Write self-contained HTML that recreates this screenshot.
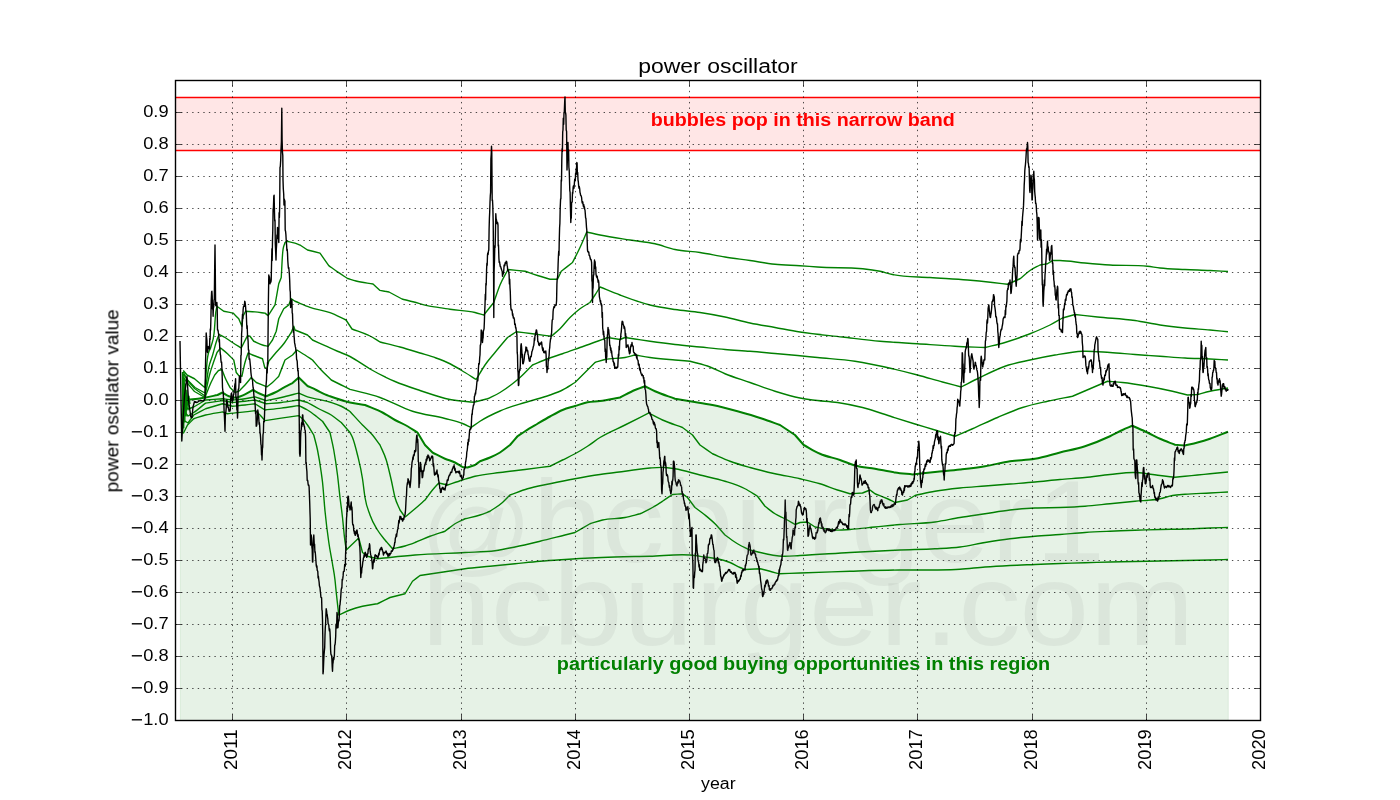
<!DOCTYPE html>
<html><head><meta charset="utf-8"><title>power oscillator</title>
<style>html,body{margin:0;padding:0;background:#fff;}body{width:1400px;height:800px;overflow:hidden;font-family:"Liberation Sans",sans-serif;}</style>
</head><body>
<svg width="1400" height="800" viewBox="0 0 1400 800" style="display:block" font-family="'Liberation Sans', sans-serif">
<rect x="0" y="0" width="1400" height="800" fill="#fff"/>
<g opacity="0.999">
<defs><clipPath id="ax"><rect x="175.5" y="80.5" width="1085.0" height="640.0"/></clipPath></defs>
<g clip-path="url(#ax)">
<rect x="175.5" y="97.5" width="1085.0" height="53" fill="rgb(255,0,0)" fill-opacity="0.1"/>
<path d="M180.3,720.5 L180.3,400.5 L182.50,400.00 C185.00,399.83 187.50,399.72 190.00,399.50 C195.20,399.05 200.40,398.41 205.60,397.50 C209.57,396.81 213.53,395.83 217.50,395.00 C219.17,394.17 220.83,393.33 222.50,392.50 C224.17,393.53 225.83,394.77 227.50,395.60 C229.17,396.43 230.83,396.87 232.50,397.50 C234.17,397.50 235.83,397.50 237.50,397.50 C240.00,396.47 242.50,395.59 245.00,394.40 C247.70,393.12 250.40,391.47 253.10,390.00 C255.40,391.25 257.70,392.67 260.00,393.75 C262.08,394.73 264.17,395.42 266.25,396.25 C269.17,395.00 272.08,393.93 275.00,392.50 C278.33,390.87 281.67,388.67 285.00,386.90 C287.50,385.58 290.00,384.37 292.50,383.10 C294.58,381.23 296.67,379.37 298.75,377.50 C301.67,380.33 304.58,383.17 307.50,386.00 C310.42,387.33 313.33,388.60 316.25,390.00 C319.17,391.40 322.08,393.18 325.00,394.40 C326.67,395.10 328.33,395.65 330.00,396.25 C336.67,398.64 343.33,400.97 350.00,402.50 C355.00,403.65 360.00,404.17 365.00,405.00 C370.83,407.50 376.67,409.42 382.50,412.50 C386.67,414.70 390.83,417.71 395.00,420.00 C399.17,422.29 403.33,423.88 407.50,426.25 C410.83,428.15 414.17,430.42 417.50,432.50 C420.00,436.67 422.50,440.83 425.00,445.00 C427.50,447.50 430.00,450.00 432.50,452.50 C436.67,454.58 440.83,456.96 445.00,458.75 C448.33,460.19 451.67,460.82 455.00,462.50 C457.50,463.76 460.00,465.50 462.50,467.00 C464.17,467.17 465.83,467.33 467.50,467.50 C470.00,466.67 472.50,465.83 475.00,465.00 C476.67,463.75 478.33,462.50 480.00,461.25 C483.33,460.00 486.67,458.96 490.00,457.50 C493.33,456.04 496.67,454.58 500.00,452.50 C503.33,450.42 506.67,447.50 510.00,445.00 C512.50,442.08 515.00,439.17 517.50,436.25 C520.00,434.58 522.50,432.85 525.00,431.25 C529.17,428.58 533.33,426.21 537.50,423.75 C541.67,421.29 545.83,418.79 550.00,416.50 C554.17,414.21 558.33,411.75 562.50,410.00 C566.67,408.25 570.83,407.28 575.00,406.00 C579.17,404.72 583.33,403.13 587.50,402.30 C591.67,401.47 595.83,401.55 600.00,401.00 C606.67,400.12 613.33,398.67 620.00,397.50 C625.00,395.00 630.00,392.12 635.00,390.00 C638.33,388.58 641.67,387.50 645.00,386.25 C648.33,387.92 651.67,389.72 655.00,391.25 C661.67,394.31 668.33,396.25 675.00,398.75 C680.00,399.58 685.00,400.42 690.00,401.25 C697.50,402.50 705.00,403.45 712.50,405.00 C720.83,406.72 729.17,408.96 737.50,411.25 C745.83,413.54 754.17,415.97 762.50,418.75 C768.33,420.70 774.17,422.92 780.00,425.00 C785.00,428.33 790.00,431.67 795.00,435.00 C797.92,438.33 800.83,441.67 803.75,445.00 C809.17,447.92 814.58,451.38 820.00,453.75 C826.67,456.66 833.33,457.71 840.00,460.00 C845.00,461.72 850.00,464.10 855.00,465.50 C861.67,467.36 868.33,467.58 875.00,468.75 C881.67,469.92 888.33,471.51 895.00,472.50 C900.83,473.37 906.67,473.83 912.50,474.50 C920.00,473.67 927.50,472.79 935.00,472.00 C943.33,471.12 951.67,470.46 960.00,469.50 C968.33,468.54 976.67,467.62 985.00,466.25 C993.33,464.88 1001.67,462.50 1010.00,461.25 C1018.33,460.00 1026.67,460.21 1035.00,458.75 C1043.33,457.29 1051.67,454.58 1060.00,452.50 C1068.33,450.42 1076.67,448.96 1085.00,446.25 C1093.33,443.54 1101.67,440.14 1110.00,436.25 C1114.17,434.31 1118.33,431.91 1122.50,430.00 C1125.83,428.47 1129.17,427.17 1132.50,425.75 C1137.50,428.00 1142.50,430.11 1147.50,432.50 C1151.67,434.49 1155.83,436.86 1160.00,438.75 C1165.00,441.02 1170.00,442.75 1175.00,444.75 C1178.33,445.00 1181.67,445.25 1185.00,445.50 C1189.17,444.50 1193.33,443.62 1197.50,442.50 C1201.67,441.38 1205.83,440.15 1210.00,438.75 C1216.00,436.73 1222.00,434.08 1228.00,431.75 L1228.3,431.75 L1228.3,720.5 Z" fill="rgb(0,128,0)" fill-opacity="0.1" stroke="rgb(0,128,0)" stroke-opacity="0.1" stroke-width="1"/>
<line x1="175.5" x2="1260.5" y1="97.5" y2="97.5" stroke="#f00" stroke-width="1.4"/>
<line x1="175.5" x2="1260.5" y1="150.5" y2="150.5" stroke="#f00" stroke-width="1.4"/>
<path d="M183.25,370.50 C184.50,372.00 185.75,373.50 187.00,375.00 C189.50,376.25 192.00,377.50 194.50,378.75 C198.00,381.75 201.50,384.75 205.00,387.75 C205.75,378.50 206.50,366.79 207.25,360.00 C208.50,348.68 209.75,351.82 211.00,346.50 C212.13,341.68 213.27,343.02 214.40,330.00 C214.77,325.79 215.13,318.81 215.50,315.00 C215.97,310.15 216.43,309.17 216.90,306.25 C219.18,307.92 221.47,309.58 223.75,311.25 C226.87,311.87 229.98,312.48 233.10,313.10 C234.98,314.98 236.87,316.87 238.75,318.75 C239.80,321.25 240.85,323.75 241.90,326.25 C242.27,322.92 242.63,319.58 243.00,316.25 C243.87,314.58 244.73,312.92 245.60,311.25 C248.73,311.47 251.87,311.61 255.00,311.90 C258.33,312.21 261.67,312.70 265.00,313.10 C266.03,313.93 267.07,314.77 268.10,315.60 C269.98,312.70 271.87,309.77 273.75,306.90 C274.17,306.27 274.58,305.63 275.00,305.00 C276.25,297.92 277.50,290.83 278.75,283.75 C279.58,281.67 280.42,279.58 281.25,277.50 C281.67,270.00 282.08,260.69 282.50,255.00 C283.33,243.61 284.17,246.67 285.00,242.50 C285.63,242.08 286.27,241.67 286.90,241.25 C289.60,241.87 292.30,242.23 295.00,243.10 C296.67,243.64 298.33,244.37 300.00,245.00 C302.50,246.67 305.00,248.33 307.50,250.00 C311.67,251.03 315.83,252.07 320.00,253.10 C322.92,257.27 325.83,261.43 328.75,265.60 C331.67,267.70 334.58,269.88 337.50,271.90 C340.83,274.21 344.17,276.30 347.50,278.50 C350.33,279.33 353.17,280.28 356.00,281.00 C361.67,282.44 367.33,283.00 373.00,284.00 C375.33,286.13 377.67,288.27 380.00,290.40 C383.00,290.93 386.00,291.47 389.00,292.00 C393.33,294.33 397.67,296.67 402.00,299.00 C406.00,300.00 410.00,300.93 414.00,302.00 C418.00,303.07 422.00,304.50 426.00,305.40 C430.00,306.30 434.00,306.75 438.00,307.40 C442.00,308.05 446.00,308.71 450.00,309.30 C458.33,310.54 466.67,310.46 475.00,312.50 C477.92,313.21 480.83,314.17 483.75,315.00 C487.08,310.83 490.42,306.67 493.75,302.50 C495.83,296.67 497.92,290.05 500.00,285.00 C502.67,278.54 505.33,274.67 508.00,269.50 C513.67,270.08 519.33,270.67 525.00,271.25 C529.17,272.67 533.33,274.17 537.50,275.50 C541.67,276.83 545.83,278.00 550.00,279.25 C552.50,279.25 555.00,279.25 557.50,279.25 C558.75,276.58 560.00,273.92 561.25,271.25 C565.00,268.33 568.75,265.42 572.50,262.50 C575.00,257.50 577.50,252.89 580.00,247.50 C582.25,242.65 584.50,237.17 586.75,232.00 C591.17,233.00 595.58,234.08 600.00,235.00 C610.00,237.08 620.00,238.42 630.00,240.00 C638.33,241.31 646.67,241.86 655.00,243.75 C661.67,245.26 668.33,248.08 675.00,249.50 C683.33,251.28 691.67,251.25 700.00,252.50 C708.33,253.75 716.67,255.67 725.00,257.00 C733.33,258.33 741.67,259.29 750.00,260.50 C758.33,261.71 766.67,263.38 775.00,264.25 C783.33,265.12 791.67,265.19 800.00,265.75 C805.83,266.14 811.67,266.59 817.50,267.00 C838.33,268.47 859.17,266.50 880.00,271.25 C884.17,272.20 888.33,273.60 892.50,274.50 C905.00,277.19 917.50,276.58 930.00,277.50 C942.50,278.42 955.00,278.92 967.50,280.00 C975.83,280.72 984.17,281.58 992.50,282.50 C997.50,283.05 1002.50,283.67 1007.50,284.25 C1011.67,282.42 1015.83,280.58 1020.00,278.75 C1023.33,276.00 1026.67,272.79 1030.00,270.50 C1033.33,268.21 1036.67,266.83 1040.00,265.00 C1042.50,264.58 1045.00,264.17 1047.50,263.75 C1049.17,262.67 1050.83,261.58 1052.50,260.50 C1055.00,260.50 1057.50,260.44 1060.00,260.50 C1068.33,260.69 1076.67,262.25 1085.00,263.00 C1093.33,263.75 1101.67,264.49 1110.00,265.00 C1122.50,265.77 1135.00,264.83 1147.50,266.25 C1151.67,266.72 1155.83,267.53 1160.00,268.00 C1168.33,268.94 1176.67,269.08 1185.00,269.50 C1193.33,269.92 1201.67,270.09 1210.00,270.50 C1216.00,270.79 1222.00,271.17 1228.00,271.50" fill="none" stroke="#008000" stroke-width="1.4" stroke-linejoin="round"/>
<path d="M183.25,372.00 C184.67,374.67 186.08,377.33 187.50,380.00 C190.00,382.50 192.50,385.00 195.00,387.50 C198.33,389.33 201.67,391.17 205.00,393.00 C206.25,384.50 207.50,373.75 208.75,367.50 C210.00,361.25 211.25,359.75 212.50,355.50 C213.75,351.25 215.00,345.90 216.25,342.00 C217.17,339.14 218.08,336.93 219.00,334.40 C221.00,335.43 223.00,336.33 225.00,337.50 C227.50,338.96 230.00,340.88 232.50,342.50 C235.42,344.39 238.33,346.17 241.25,348.00 C243.33,343.87 245.42,339.73 247.50,335.60 C248.33,335.82 249.17,336.03 250.00,336.25 C251.25,337.92 252.50,339.58 253.75,341.25 C256.67,342.50 259.58,344.12 262.50,345.00 C264.37,345.57 266.23,345.83 268.10,346.25 C269.57,344.17 271.03,342.08 272.50,340.00 C273.75,337.08 275.00,334.17 276.25,331.25 C277.08,327.08 277.92,322.92 278.75,318.75 C280.42,315.42 282.08,312.08 283.75,308.75 C285.42,307.50 287.08,306.25 288.75,305.00 C289.58,302.92 290.42,300.83 291.25,298.75 C292.50,299.58 293.75,300.42 295.00,301.25 C300.00,303.27 305.00,305.57 310.00,307.30 C316.67,309.61 323.33,310.21 330.00,312.70 C335.33,314.69 340.67,317.57 346.00,320.00 C348.00,323.00 350.00,326.00 352.00,329.00 C358.00,331.33 364.00,332.85 370.00,336.00 C373.33,337.75 376.67,340.00 380.00,342.00 C386.67,343.67 393.33,345.17 400.00,347.00 C406.67,348.83 413.33,350.95 420.00,353.00 C425.33,354.64 430.67,356.05 436.00,358.00 C440.67,359.70 445.33,361.44 450.00,363.75 C455.00,366.22 460.00,369.47 465.00,372.50 C468.75,374.77 472.50,377.17 476.25,379.50 C479.17,374.67 482.08,369.28 485.00,365.00 C488.33,360.11 491.67,356.59 495.00,352.50 C499.17,347.38 503.33,342.50 507.50,337.50 C510.42,335.58 513.33,333.67 516.25,331.75 C521.67,332.42 527.08,333.06 532.50,333.75 C538.75,334.55 545.00,335.42 551.25,336.25 C554.17,333.75 557.08,331.61 560.00,328.75 C563.33,325.48 566.67,320.83 570.00,317.50 C573.33,314.17 576.67,311.25 580.00,308.75 C583.33,306.25 586.67,304.58 590.00,302.50 C591.67,300.00 593.33,297.58 595.00,295.00 C596.67,292.42 598.33,289.67 600.00,287.00 C606.67,289.67 613.33,292.51 620.00,295.00 C630.00,298.73 640.00,302.50 650.00,305.00 C658.33,307.08 666.67,308.25 675.00,309.50 C683.33,310.75 691.67,311.25 700.00,312.50 C708.33,313.75 716.67,315.25 725.00,317.00 C733.33,318.75 741.67,321.25 750.00,323.00 C758.33,324.75 766.67,326.00 775.00,327.50 C783.33,329.00 791.67,330.69 800.00,332.00 C814.17,334.22 828.33,335.37 842.50,337.00 C855.00,338.44 867.50,340.12 880.00,341.25 C892.50,342.38 905.00,342.92 917.50,343.75 C930.00,344.58 942.50,345.59 955.00,346.25 C965.00,346.78 975.00,347.08 985.00,347.50 C991.67,345.83 998.33,344.46 1005.00,342.50 C1013.33,340.05 1021.67,337.07 1030.00,333.75 C1036.67,331.09 1043.33,328.42 1050.00,325.00 C1054.17,322.86 1058.33,320.33 1062.50,318.00 C1066.67,316.83 1070.83,315.67 1075.00,314.50 C1082.50,315.33 1090.00,316.22 1097.50,317.00 C1110.00,318.31 1122.50,318.68 1135.00,320.50 C1143.33,321.71 1151.67,323.75 1160.00,325.00 C1168.33,326.25 1176.67,327.17 1185.00,328.00 C1193.33,328.83 1201.67,329.25 1210.00,330.00 C1216.00,330.54 1222.00,331.17 1228.00,331.75" fill="none" stroke="#008000" stroke-width="1.4" stroke-linejoin="round"/>
<path d="M183.25,374.00 C184.50,375.83 185.75,377.78 187.00,379.50 C189.50,382.94 192.00,385.50 194.50,388.50 C198.00,391.00 201.50,393.50 205.00,396.00 C206.50,389.00 208.00,380.80 209.50,375.00 C210.75,370.17 212.00,366.75 213.25,363.00 C214.50,359.25 215.75,356.00 217.00,352.50 C218.20,351.00 219.40,349.50 220.60,348.00 C222.90,349.92 225.20,351.63 227.50,353.75 C229.58,355.67 231.67,357.92 233.75,360.00 C234.58,364.17 235.42,368.33 236.25,372.50 C237.08,373.53 237.92,374.57 238.75,375.60 C239.80,375.82 240.85,376.03 241.90,376.25 C242.93,371.67 243.97,366.38 245.00,362.50 C246.03,358.62 247.07,356.17 248.10,353.00 C249.57,353.67 251.03,354.37 252.50,355.00 C255.83,356.43 259.17,357.50 262.50,358.75 C263.25,361.67 264.00,364.58 264.75,367.50 C265.47,367.92 266.18,368.33 266.90,368.75 C267.52,366.25 268.13,363.75 268.75,361.25 C270.83,358.75 272.92,356.20 275.00,353.75 C277.92,350.32 280.83,347.64 283.75,343.75 C286.25,340.41 288.75,336.25 291.25,332.50 C292.08,330.42 292.92,328.33 293.75,326.25 C294.17,327.50 294.58,328.75 295.00,330.00 C299.17,331.67 303.33,333.33 307.50,335.00 C309.17,336.67 310.83,338.33 312.50,340.00 C316.67,341.87 320.83,343.73 325.00,345.60 C329.17,347.48 333.33,349.43 337.50,351.25 C341.67,353.07 345.83,354.42 350.00,356.50 C356.67,359.83 363.33,365.20 370.00,369.00 C378.33,373.75 386.67,377.92 395.00,381.50 C403.33,385.08 411.67,387.73 420.00,390.50 C430.00,393.83 440.00,397.52 450.00,399.50 C457.92,401.07 465.83,401.37 473.75,402.30 C478.33,401.12 482.92,399.93 487.50,398.75 C491.67,396.67 495.83,395.00 500.00,392.50 C504.17,390.00 508.33,387.01 512.50,383.75 C515.00,381.79 517.50,379.74 520.00,377.50 C524.17,373.77 528.33,369.17 532.50,365.00 C537.50,362.92 542.50,360.62 547.50,358.75 C552.50,356.88 557.50,355.47 562.50,353.75 C568.33,351.74 574.17,349.58 580.00,347.50 C585.83,345.42 591.67,343.40 597.50,341.25 C600.83,340.02 604.17,338.75 607.50,337.50 C611.67,338.17 615.83,338.83 620.00,339.50 C621.67,338.83 623.33,338.17 625.00,337.50 C633.33,338.75 641.67,340.08 650.00,341.25 C658.33,342.42 666.67,343.54 675.00,344.50 C683.33,345.46 691.67,346.17 700.00,347.00 C708.33,347.83 716.67,348.79 725.00,349.50 C733.33,350.21 741.67,350.58 750.00,351.25 C758.33,351.92 766.67,352.75 775.00,353.50 C783.33,354.25 791.67,354.95 800.00,355.75 C805.83,356.31 811.67,356.92 817.50,357.50 C830.00,358.75 842.50,359.38 855.00,361.25 C867.50,363.12 880.00,365.88 892.50,368.75 C900.83,370.67 909.17,372.79 917.50,375.00 C925.83,377.21 934.17,379.73 942.50,382.00 C948.75,383.70 955.00,385.33 961.25,387.00 C967.50,383.83 973.75,380.51 980.00,377.50 C988.33,373.48 996.67,369.17 1005.00,366.25 C1013.33,363.33 1021.67,361.88 1030.00,360.00 C1038.33,358.12 1046.67,356.41 1055.00,355.00 C1064.17,353.44 1073.33,351.67 1082.50,351.25 C1091.67,350.83 1100.83,351.92 1110.00,352.50 C1118.33,353.03 1126.67,353.88 1135.00,354.50 C1143.33,355.12 1151.67,355.67 1160.00,356.25 C1168.33,356.83 1176.67,357.54 1185.00,358.00 C1193.33,358.46 1201.67,358.59 1210.00,359.00 C1216.00,359.29 1222.00,359.67 1228.00,360.00" fill="none" stroke="#008000" stroke-width="1.4" stroke-linejoin="round"/>
<path d="M183.25,377.00 C184.50,378.83 185.75,380.78 187.00,382.50 C189.50,385.94 192.00,388.50 194.50,391.50 C198.00,393.50 201.50,395.50 205.00,397.50 C207.00,392.50 209.00,386.88 211.00,382.50 C212.25,379.76 213.50,377.50 214.75,375.00 C216.00,373.50 217.25,372.00 218.50,370.50 C219.63,370.17 220.77,369.83 221.90,369.50 C222.93,372.17 223.97,375.06 225.00,377.50 C226.67,381.43 228.33,384.17 230.00,387.50 C231.67,389.17 233.33,390.83 235.00,392.50 C236.25,392.08 237.50,391.67 238.75,391.25 C240.83,389.17 242.92,387.29 245.00,385.00 C247.08,382.71 249.17,380.00 251.25,377.50 C252.92,379.17 254.58,380.83 256.25,382.50 C259.80,383.97 263.35,385.43 266.90,386.90 C268.77,385.43 270.63,384.16 272.50,382.50 C274.58,380.65 276.67,378.33 278.75,376.25 C280.83,370.83 282.92,365.42 285.00,360.00 C287.50,358.33 290.00,356.67 292.50,355.00 C293.97,353.33 295.43,351.67 296.90,350.00 C299.60,351.67 302.30,353.26 305.00,355.00 C307.50,356.61 310.00,358.33 312.50,360.00 C315.00,362.92 317.50,366.00 320.00,368.75 C323.75,372.88 327.50,376.25 331.25,380.00 C334.58,381.67 337.92,383.33 341.25,385.00 C344.17,386.46 347.08,387.93 350.00,389.40 C360.00,392.10 370.00,394.07 380.00,397.50 C390.83,401.22 401.67,407.75 412.50,411.25 C423.33,414.75 434.17,415.64 445.00,418.50 C450.83,420.04 456.67,421.11 462.50,423.50 C465.33,424.66 468.17,426.17 471.00,427.50 C474.00,425.42 477.00,423.16 480.00,421.25 C486.67,417.00 493.33,413.91 500.00,411.00 C508.33,407.37 516.67,405.17 525.00,402.50 C533.33,399.83 541.67,398.06 550.00,395.00 C554.17,393.47 558.33,392.08 562.50,390.00 C566.67,387.92 570.83,385.00 575.00,382.50 C578.33,379.17 581.67,375.83 585.00,372.50 C588.33,369.17 591.67,365.83 595.00,362.50 C598.33,361.50 601.67,360.28 605.00,359.50 C611.67,357.94 618.33,358.83 625.00,357.50 C628.33,356.83 631.67,355.83 635.00,355.00 C640.00,355.83 645.00,356.79 650.00,357.50 C658.33,358.68 666.67,359.25 675.00,360.00 C680.00,360.45 685.00,360.83 690.00,361.25 C696.67,363.17 703.33,364.46 710.00,367.00 C715.00,368.90 720.00,371.69 725.00,373.75 C733.33,377.19 741.67,379.58 750.00,382.50 C758.33,385.42 766.67,388.67 775.00,391.25 C783.33,393.83 791.67,396.36 800.00,398.00 C804.17,398.82 808.33,399.42 812.50,400.00 C820.83,401.17 829.17,401.25 837.50,402.50 C845.83,403.75 854.17,405.39 862.50,407.50 C872.50,410.03 882.50,413.87 892.50,417.00 C900.00,419.35 907.50,421.71 915.00,424.00 C921.67,426.03 928.33,427.96 935.00,430.00 C941.67,432.04 948.33,434.17 955.00,436.25 C960.83,433.75 966.67,431.30 972.50,428.75 C980.83,425.11 989.17,421.04 997.50,417.50 C1005.83,413.96 1014.17,410.21 1022.50,407.50 C1030.83,404.79 1039.17,403.12 1047.50,401.25 C1055.83,399.38 1064.17,397.92 1072.50,396.25 C1078.33,393.75 1084.17,391.25 1090.00,388.75 C1095.83,386.25 1101.67,383.75 1107.50,381.25 C1112.50,381.67 1117.50,381.96 1122.50,382.50 C1130.83,383.40 1139.17,384.79 1147.50,386.25 C1155.83,387.71 1164.17,389.32 1172.50,391.25 C1177.50,392.41 1182.50,393.75 1187.50,395.00 C1190.83,394.83 1194.17,394.67 1197.50,394.50 C1201.67,393.42 1205.83,392.20 1210.00,391.25 C1216.00,389.89 1222.00,389.08 1228.00,388.00" fill="none" stroke="#008000" stroke-width="1.4" stroke-linejoin="round"/>
<path d="M182.50,400.00 C185.00,399.83 187.50,399.72 190.00,399.50 C195.20,399.05 200.40,398.41 205.60,397.50 C209.57,396.81 213.53,395.83 217.50,395.00 C219.17,394.17 220.83,393.33 222.50,392.50 C224.17,393.53 225.83,394.77 227.50,395.60 C229.17,396.43 230.83,396.87 232.50,397.50 C234.17,397.50 235.83,397.50 237.50,397.50 C240.00,396.47 242.50,395.59 245.00,394.40 C247.70,393.12 250.40,391.47 253.10,390.00 C255.40,391.25 257.70,392.67 260.00,393.75 C262.08,394.73 264.17,395.42 266.25,396.25 C269.17,395.00 272.08,393.93 275.00,392.50 C278.33,390.87 281.67,388.67 285.00,386.90 C287.50,385.58 290.00,384.37 292.50,383.10 C294.58,381.23 296.67,379.37 298.75,377.50 C301.67,380.33 304.58,383.17 307.50,386.00 C310.42,387.33 313.33,388.60 316.25,390.00 C319.17,391.40 322.08,393.18 325.00,394.40 C326.67,395.10 328.33,395.65 330.00,396.25 C336.67,398.64 343.33,400.97 350.00,402.50 C355.00,403.65 360.00,404.17 365.00,405.00 C370.83,407.50 376.67,409.42 382.50,412.50 C386.67,414.70 390.83,417.71 395.00,420.00 C399.17,422.29 403.33,423.88 407.50,426.25 C410.83,428.15 414.17,430.42 417.50,432.50 C420.00,436.67 422.50,440.83 425.00,445.00 C427.50,447.50 430.00,450.00 432.50,452.50 C436.67,454.58 440.83,456.96 445.00,458.75 C448.33,460.19 451.67,460.82 455.00,462.50 C457.50,463.76 460.00,465.50 462.50,467.00 C464.17,467.17 465.83,467.33 467.50,467.50 C470.00,466.67 472.50,465.83 475.00,465.00 C476.67,463.75 478.33,462.50 480.00,461.25 C483.33,460.00 486.67,458.96 490.00,457.50 C493.33,456.04 496.67,454.58 500.00,452.50 C503.33,450.42 506.67,447.50 510.00,445.00 C512.50,442.08 515.00,439.17 517.50,436.25 C520.00,434.58 522.50,432.85 525.00,431.25 C529.17,428.58 533.33,426.21 537.50,423.75 C541.67,421.29 545.83,418.79 550.00,416.50 C554.17,414.21 558.33,411.75 562.50,410.00 C566.67,408.25 570.83,407.28 575.00,406.00 C579.17,404.72 583.33,403.13 587.50,402.30 C591.67,401.47 595.83,401.55 600.00,401.00 C606.67,400.12 613.33,398.67 620.00,397.50 C625.00,395.00 630.00,392.12 635.00,390.00 C638.33,388.58 641.67,387.50 645.00,386.25 C648.33,387.92 651.67,389.72 655.00,391.25 C661.67,394.31 668.33,396.25 675.00,398.75 C680.00,399.58 685.00,400.42 690.00,401.25 C697.50,402.50 705.00,403.45 712.50,405.00 C720.83,406.72 729.17,408.96 737.50,411.25 C745.83,413.54 754.17,415.97 762.50,418.75 C768.33,420.70 774.17,422.92 780.00,425.00 C785.00,428.33 790.00,431.67 795.00,435.00 C797.92,438.33 800.83,441.67 803.75,445.00 C809.17,447.92 814.58,451.38 820.00,453.75 C826.67,456.66 833.33,457.71 840.00,460.00 C845.00,461.72 850.00,464.10 855.00,465.50 C861.67,467.36 868.33,467.58 875.00,468.75 C881.67,469.92 888.33,471.51 895.00,472.50 C900.83,473.37 906.67,473.83 912.50,474.50 C920.00,473.67 927.50,472.79 935.00,472.00 C943.33,471.12 951.67,470.46 960.00,469.50 C968.33,468.54 976.67,467.62 985.00,466.25 C993.33,464.88 1001.67,462.50 1010.00,461.25 C1018.33,460.00 1026.67,460.21 1035.00,458.75 C1043.33,457.29 1051.67,454.58 1060.00,452.50 C1068.33,450.42 1076.67,448.96 1085.00,446.25 C1093.33,443.54 1101.67,440.14 1110.00,436.25 C1114.17,434.31 1118.33,431.91 1122.50,430.00 C1125.83,428.47 1129.17,427.17 1132.50,425.75 C1137.50,428.00 1142.50,430.11 1147.50,432.50 C1151.67,434.49 1155.83,436.86 1160.00,438.75 C1165.00,441.02 1170.00,442.75 1175.00,444.75 C1178.33,445.00 1181.67,445.25 1185.00,445.50 C1189.17,444.50 1193.33,443.62 1197.50,442.50 C1201.67,441.38 1205.83,440.15 1210.00,438.75 C1216.00,436.73 1222.00,434.08 1228.00,431.75" fill="none" stroke="#008000" stroke-width="2.0" stroke-linejoin="round"/>
<path d="M183.25,404.00 C184.83,405.67 186.42,407.33 188.00,409.00 C189.92,408.33 191.83,407.67 193.75,407.00 C197.70,404.67 201.65,402.33 205.60,400.00 C211.23,399.58 216.87,399.17 222.50,398.75 C225.83,399.17 229.17,399.58 232.50,400.00 C236.67,399.58 240.83,399.36 245.00,398.75 C248.33,398.26 251.67,397.52 255.00,396.90 C258.75,398.13 262.50,399.37 266.25,400.60 C271.25,399.57 276.25,398.64 281.25,397.50 C287.08,396.17 292.92,394.57 298.75,393.10 C301.67,394.37 304.58,395.90 307.50,396.90 C311.25,398.18 315.00,398.52 318.75,399.40 C322.92,400.38 327.08,401.17 331.25,402.50 C334.58,403.56 337.92,404.60 341.25,406.25 C344.17,407.69 347.08,409.75 350.00,411.50 C354.17,416.00 358.33,420.69 362.50,425.00 C365.83,428.45 369.17,431.03 372.50,435.00 C375.00,437.98 377.50,441.67 380.00,445.00 C382.08,450.00 384.17,453.15 386.25,460.00 C387.92,465.48 389.58,472.70 391.25,480.00 C392.50,485.48 393.75,492.83 395.00,497.50 C396.67,503.73 398.33,505.83 400.00,510.00 C401.67,512.33 403.33,514.67 405.00,517.00 C408.33,514.25 411.67,511.58 415.00,508.75 C418.33,505.92 421.67,502.92 425.00,500.00 C427.50,496.67 430.00,493.04 432.50,490.00 C434.58,487.46 436.67,485.33 438.75,483.00 C441.67,483.67 444.58,484.33 447.50,485.00 C452.50,483.33 457.50,481.58 462.50,480.00 C466.67,478.69 470.83,477.29 475.00,476.25 C483.33,474.17 491.67,473.62 500.00,472.50 C508.33,471.38 516.67,470.54 525.00,469.50 C533.33,468.46 541.67,467.33 550.00,466.25 C554.17,464.17 558.33,462.08 562.50,460.00 C566.67,457.92 570.83,456.04 575.00,453.75 C579.17,451.46 583.33,448.96 587.50,446.25 C591.67,443.54 595.83,440.14 600.00,437.50 C608.33,432.22 616.67,429.19 625.00,425.00 C632.92,421.02 640.83,417.00 648.75,413.00 C653.33,415.33 657.92,417.92 662.50,420.00 C669.17,423.03 675.83,425.00 682.50,427.50 C685.83,430.00 689.17,432.50 692.50,435.00 C695.00,438.33 697.50,441.67 700.00,445.00 C704.17,447.92 708.33,450.83 712.50,453.75 C718.33,456.25 724.17,459.07 730.00,461.25 C736.67,463.75 743.33,465.60 750.00,467.50 C758.33,469.87 766.67,471.88 775.00,473.75 C783.33,475.62 791.67,476.85 800.00,478.75 C806.67,480.27 813.33,481.70 820.00,483.75 C825.83,485.54 831.67,488.11 837.50,490.00 C841.67,491.35 845.83,492.50 850.00,493.75 C854.17,493.50 858.33,493.25 862.50,493.00 C865.00,492.00 867.50,491.00 870.00,490.00 C871.67,491.25 873.33,492.50 875.00,493.75 C879.17,495.42 883.33,496.82 887.50,498.75 C890.00,499.91 892.50,501.25 895.00,502.50 C899.17,501.67 903.33,500.83 907.50,500.00 C910.00,498.50 912.50,497.00 915.00,495.50 C921.67,494.08 928.33,492.42 935.00,491.25 C943.33,489.78 951.67,488.88 960.00,488.00 C968.33,487.12 976.67,486.67 985.00,486.00 C993.33,485.33 1001.67,484.67 1010.00,484.00 C1018.33,483.33 1026.67,482.75 1035.00,482.00 C1043.33,481.25 1051.67,480.25 1060.00,479.50 C1068.33,478.75 1076.67,478.33 1085.00,477.50 C1093.33,476.67 1101.67,475.33 1110.00,474.50 C1118.33,473.67 1126.67,472.17 1135.00,472.50 C1139.17,472.67 1143.33,473.25 1147.50,473.75 C1151.67,474.25 1155.83,474.95 1160.00,475.50 C1165.00,476.15 1170.00,476.70 1175.00,477.30 C1178.33,476.95 1181.67,476.59 1185.00,476.25 C1189.17,475.82 1193.33,475.42 1197.50,475.00 C1201.67,474.58 1205.83,474.16 1210.00,473.75 C1216.00,473.16 1222.00,472.58 1228.00,472.00" fill="none" stroke="#008000" stroke-width="1.4" stroke-linejoin="round"/>
<path d="M183.25,410.00 C184.83,412.00 186.42,414.00 188.00,416.00 C189.92,414.83 191.83,413.78 193.75,412.50 C197.70,409.86 201.65,406.23 205.60,403.10 C211.23,402.27 216.87,401.43 222.50,400.60 C225.83,401.23 229.17,401.87 232.50,402.50 C236.67,402.08 240.83,401.72 245.00,401.25 C248.33,400.87 251.67,400.42 255.00,400.00 C258.75,401.25 262.50,402.50 266.25,403.75 C271.25,403.33 276.25,403.05 281.25,402.50 C287.08,401.85 292.92,400.83 298.75,400.00 C301.67,400.83 304.58,401.67 307.50,402.50 C311.25,404.58 315.00,406.77 318.75,408.75 C322.92,410.96 327.08,412.34 331.25,415.00 C334.58,417.13 337.92,420.00 341.25,422.50 C344.17,425.83 347.08,429.17 350.00,432.50 C350.83,434.17 351.67,435.42 352.50,437.50 C354.17,441.67 355.83,448.12 357.50,455.00 C359.17,461.88 360.83,467.78 362.50,478.75 C363.33,484.24 364.17,492.36 365.00,497.50 C366.67,507.78 368.33,510.17 370.00,515.00 C372.50,522.25 375.00,525.83 377.50,530.00 C380.00,534.17 382.50,536.88 385.00,540.00 C387.50,543.12 390.00,545.83 392.50,548.75 C396.67,547.83 400.83,547.22 405.00,546.00 C408.33,545.03 411.67,543.76 415.00,542.50 C420.00,540.62 425.00,538.12 430.00,536.25 C435.00,534.38 440.00,532.92 445.00,531.25 C448.33,528.75 451.67,525.83 455.00,523.75 C458.33,521.67 461.67,520.42 465.00,518.75 C470.00,517.50 475.00,516.62 480.00,515.00 C483.33,513.92 486.67,512.50 490.00,511.25 C494.17,508.33 498.33,506.20 502.50,502.50 C505.00,500.28 507.50,497.50 510.00,495.00 C515.83,492.92 521.67,490.49 527.50,488.75 C535.00,486.51 542.50,485.34 550.00,483.75 C558.33,481.99 566.67,480.29 575.00,478.75 C583.33,477.21 591.67,475.75 600.00,474.50 C608.33,473.25 616.67,472.33 625.00,471.25 C633.33,470.17 641.67,468.58 650.00,468.00 C655.00,467.65 660.00,467.19 665.00,467.50 C668.33,467.71 671.67,468.21 675.00,468.75 C683.33,470.09 691.67,472.92 700.00,475.00 C708.33,477.08 716.67,478.59 725.00,481.25 C731.67,483.38 738.33,485.33 745.00,488.75 C749.17,490.89 753.33,493.75 757.50,496.25 C760.00,499.58 762.50,502.92 765.00,506.25 C768.33,508.75 771.67,511.67 775.00,513.75 C778.33,515.83 781.67,516.96 785.00,518.75 C788.33,520.54 791.67,522.58 795.00,524.50 C796.67,523.83 798.33,523.17 800.00,522.50 C802.50,522.33 805.00,522.17 807.50,522.00 C810.00,523.67 812.50,525.33 815.00,527.00 C818.33,527.58 821.67,528.25 825.00,528.75 C828.33,529.25 831.67,529.79 835.00,530.00 C840.00,530.31 845.00,529.79 850.00,529.50 C858.33,529.01 866.67,527.83 875.00,527.00 C883.33,526.17 891.67,525.23 900.00,524.50 C911.67,523.47 923.33,523.57 935.00,522.00 C943.33,520.88 951.67,518.88 960.00,517.50 C968.33,516.12 976.67,515.00 985.00,513.75 C993.33,512.50 1001.67,510.96 1010.00,510.00 C1018.33,509.04 1026.67,508.42 1035.00,508.00 C1043.33,507.58 1051.67,507.79 1060.00,507.50 C1068.33,507.21 1076.67,506.88 1085.00,506.25 C1093.33,505.62 1101.67,504.58 1110.00,503.75 C1118.33,502.92 1126.67,502.08 1135.00,501.25 C1143.33,500.42 1151.67,500.47 1160.00,498.75 C1164.17,497.89 1168.33,496.25 1172.50,495.50 C1176.67,494.75 1180.83,494.60 1185.00,494.25 C1193.33,493.56 1201.67,493.44 1210.00,493.00 C1216.00,492.68 1222.00,492.33 1228.00,492.00" fill="none" stroke="#008000" stroke-width="1.4" stroke-linejoin="round"/>
<path d="M183.25,420.00 C184.83,421.00 186.42,422.00 188.00,423.00 C189.92,420.33 191.83,417.67 193.75,415.00 C197.70,412.92 201.65,410.83 205.60,408.75 C211.23,407.08 216.87,405.42 222.50,403.75 C225.83,404.58 229.17,405.42 232.50,406.25 C236.67,405.83 240.83,405.47 245.00,405.00 C248.33,404.62 251.67,404.17 255.00,403.75 C258.33,405.83 261.67,407.92 265.00,410.00 C270.42,409.37 275.83,408.80 281.25,408.10 C287.08,407.35 292.92,406.43 298.75,405.60 C301.67,407.07 304.58,408.23 307.50,410.00 C310.42,411.77 313.33,414.02 316.25,416.25 C318.33,417.84 320.42,419.58 322.50,421.25 C325.00,425.00 327.50,428.75 330.00,432.50 C331.25,438.33 332.50,442.92 333.75,450.00 C335.00,457.08 336.25,464.92 337.50,475.00 C338.33,481.72 339.17,490.42 340.00,497.50 C340.83,504.58 341.67,509.91 342.50,517.50 C343.17,523.57 343.83,531.85 344.50,537.50 C345.08,542.44 345.67,545.83 346.25,550.00 C350.42,546.00 354.58,542.00 358.75,538.00 C360.00,542.83 361.25,547.67 362.50,552.50 C364.17,553.75 365.83,555.00 367.50,556.25 C370.83,557.08 374.17,557.92 377.50,558.75 C390.00,557.50 402.50,555.98 415.00,555.00 C431.67,553.69 448.33,553.42 465.00,552.50 C475.00,551.95 485.00,552.11 495.00,550.75 C501.67,549.84 508.33,548.38 515.00,547.00 C523.33,545.28 531.67,543.25 540.00,541.25 C548.33,539.25 556.67,537.08 565.00,535.00 C568.33,534.17 571.67,533.33 575.00,532.50 C580.00,529.58 585.00,526.67 590.00,523.75 C594.17,522.50 598.33,520.97 602.50,520.00 C610.00,518.26 617.50,518.96 625.00,517.50 C630.00,516.53 635.00,515.00 640.00,513.75 C644.17,511.67 648.33,509.87 652.50,507.50 C655.83,505.60 659.17,503.42 662.50,501.25 C665.83,499.08 669.17,496.75 672.50,494.50 C675.83,494.25 679.17,494.00 682.50,493.75 C684.17,495.00 685.83,496.25 687.50,497.50 C690.00,500.83 692.50,504.17 695.00,507.50 C698.33,510.00 701.67,512.29 705.00,515.00 C708.33,517.71 711.67,520.42 715.00,523.75 C718.33,527.08 721.67,531.25 725.00,535.00 C729.17,537.92 733.33,541.25 737.50,543.75 C741.67,546.25 745.83,547.92 750.00,550.00 C754.17,551.00 758.33,552.08 762.50,553.00 C766.67,553.92 770.83,554.93 775.00,555.50 C777.50,555.84 780.00,556.11 782.50,556.25 C788.33,556.58 794.17,555.78 800.00,555.50 C816.67,554.71 833.33,553.42 850.00,552.50 C866.67,551.58 883.33,550.69 900.00,550.00 C911.67,549.51 923.33,549.40 935.00,548.75 C943.33,548.29 951.67,548.04 960.00,547.00 C968.33,545.96 976.67,543.88 985.00,542.50 C993.33,541.12 1001.67,539.79 1010.00,538.75 C1018.33,537.71 1026.67,536.96 1035.00,536.25 C1043.33,535.54 1051.67,535.12 1060.00,534.50 C1068.33,533.88 1076.67,533.04 1085.00,532.50 C1093.33,531.96 1101.67,531.62 1110.00,531.25 C1118.33,530.88 1126.67,530.54 1135.00,530.25 C1143.33,529.96 1151.67,529.71 1160.00,529.50 C1168.33,529.29 1176.67,529.25 1185.00,529.00 C1193.33,528.75 1201.67,528.27 1210.00,528.00 C1216.00,527.80 1222.00,527.67 1228.00,527.50" fill="none" stroke="#008000" stroke-width="1.4" stroke-linejoin="round"/>
<path d="M183.25,433.50 C184.67,430.67 186.08,427.83 187.50,425.00 C189.58,422.92 191.67,420.83 193.75,418.75 C197.70,417.50 201.65,416.03 205.60,415.00 C211.23,413.53 216.87,412.93 222.50,411.90 C224.17,412.52 225.83,413.13 227.50,413.75 C233.33,413.13 239.17,412.61 245.00,411.90 C248.33,411.50 251.67,411.03 255.00,410.60 C256.67,412.07 258.33,413.33 260.00,415.00 C261.67,416.67 263.33,418.73 265.00,420.60 C270.42,419.77 275.83,418.90 281.25,418.10 C287.08,417.23 292.92,416.43 298.75,415.60 C300.42,417.07 302.08,418.53 303.75,420.00 C305.00,421.67 306.25,423.21 307.50,425.00 C309.58,427.99 311.67,431.67 313.75,435.00 C315.00,440.00 316.25,443.75 317.50,450.00 C318.75,456.25 320.00,463.50 321.25,472.50 C321.67,475.50 322.08,478.28 322.50,482.00 C323.33,489.44 324.17,502.44 325.00,511.00 C326.25,523.83 327.50,533.17 328.75,542.00 C330.00,550.83 331.25,556.27 332.50,564.00 C333.33,569.16 334.17,572.67 335.00,580.00 C335.42,583.67 335.83,588.47 336.25,592.50 C337.08,600.56 337.92,607.50 338.75,615.00 C342.50,613.33 346.25,611.41 350.00,610.00 C354.17,608.43 358.33,607.25 362.50,606.25 C367.50,605.05 372.50,604.58 377.50,603.75 C381.67,601.67 385.83,599.58 390.00,597.50 C395.00,596.25 400.00,595.00 405.00,593.75 C407.50,589.58 410.00,585.42 412.50,581.25 C415.00,579.33 417.50,577.42 420.00,575.50 C426.67,574.50 433.33,573.50 440.00,572.50 C448.33,571.25 456.67,569.79 465.00,568.75 C473.33,567.71 481.67,567.08 490.00,566.25 C498.33,565.42 506.67,564.58 515.00,563.75 C523.33,562.92 531.67,561.96 540.00,561.25 C548.33,560.54 556.67,560.04 565.00,559.50 C573.33,558.96 581.67,558.42 590.00,558.00 C598.33,557.58 606.67,557.27 615.00,557.00 C626.67,556.62 638.33,556.55 650.00,556.25 C663.33,555.90 676.67,553.82 690.00,555.00 C695.00,555.44 700.00,556.32 705.00,557.00 C709.17,557.57 713.33,557.83 717.50,558.75 C721.67,559.67 725.83,560.79 730.00,562.50 C733.33,563.87 736.67,566.06 740.00,567.50 C741.67,568.22 743.33,568.83 745.00,569.50 C750.00,569.25 755.00,569.00 760.00,568.75 C763.33,569.58 766.67,570.35 770.00,571.25 C772.92,572.03 775.83,572.92 778.75,573.75 C785.83,573.50 792.92,573.25 800.00,573.00 C816.67,572.41 833.33,571.75 850.00,571.25 C866.67,570.75 883.33,570.17 900.00,570.00 C911.67,569.88 923.33,570.20 935.00,570.00 C943.33,569.85 951.67,569.75 960.00,569.25 C968.33,568.75 976.67,567.62 985.00,567.00 C993.33,566.38 1001.67,565.92 1010.00,565.50 C1018.33,565.08 1026.67,564.83 1035.00,564.50 C1043.33,564.17 1051.67,563.79 1060.00,563.50 C1068.33,563.21 1076.67,563.00 1085.00,562.75 C1093.33,562.50 1101.67,562.21 1110.00,562.00 C1118.33,561.79 1126.67,561.67 1135.00,561.50 C1143.33,561.33 1151.67,561.17 1160.00,561.00 C1168.33,560.83 1176.67,560.67 1185.00,560.50 C1193.33,560.33 1201.67,560.20 1210.00,560.00 C1216.00,559.85 1222.00,559.67 1228.00,559.50" fill="none" stroke="#008000" stroke-width="1.4" stroke-linejoin="round"/>
<polyline points="182.4,372 182.8,432 183.3,374 183.8,428 184.3,378 184.9,422 185.5,384 186.2,416 187,390 188,410 189,396 190,404" fill="none" stroke="#008000" stroke-width="1.2" stroke-linejoin="round"/>
<polyline points="180.0,341.0 181.0,400.0 181.8,441.0 183.0,420.0 184.5,395.0 187.0,376.5 188.5,400.0 190.8,417.0 192.0,417.5 193.0,407.0 194.5,401.5 197.0,402.5 200.0,400.5 203.0,401.0 205.0,399.0 205.6,360.0 205.8,352.5 206.2,333.0 206.5,336.6 206.9,340.3 207.2,351.0 207.5,352.5 207.8,351.5 208.2,346.5 208.5,347.0 208.8,347.8 209.2,347.9 209.5,349.0 209.8,338.3 210.1,339.6 210.3,329.0 210.6,330.0 210.9,318.8 211.2,301.1 211.6,291.9 211.9,291.2 212.2,296.3 212.5,309.0 212.8,304.0 213.1,316.2 213.4,307.0 213.7,307.2 214.0,300.0 214.3,299.3 214.7,266.4 215.0,245.0 215.3,270.9 215.6,305.0 215.9,305.8 216.2,302.4 216.6,304.2 216.9,302.5 217.2,309.3 217.5,330.0 217.8,329.7 218.1,330.8 218.4,332.9 218.8,335.0 219.1,341.9 219.4,339.4 219.7,347.1 220.0,350.0 220.3,354.3 220.6,355.2 220.9,359.8 221.2,362.5 221.6,362.0 221.9,368.2 222.2,376.7 222.5,387.5 222.8,390.4 223.1,391.2 223.4,396.4 223.8,401.0 224.1,411.3 224.4,416.2 224.7,422.9 225.0,431.2 225.3,417.2 225.6,412.5 225.9,411.8 226.2,407.9 226.6,401.0 226.9,400.0 227.2,402.1 227.5,403.5 227.8,407.0 228.1,407.9 228.4,407.2 228.8,410.0 229.1,411.3 229.4,409.7 229.7,410.6 230.0,411.0 230.3,409.5 230.6,398.5 230.9,397.9 231.2,393.8 231.6,393.0 231.9,398.5 232.2,400.9 232.5,401.2 232.8,399.8 233.1,399.7 233.4,394.6 233.7,395.0 234.0,392.0 234.3,390.0 234.6,387.3 235.0,383.7 235.3,383.9 235.6,378.8 235.9,397.7 236.2,397.5 236.6,402.3 236.9,409.9 237.2,407.3 237.5,418.1 237.8,411.2 238.1,391.2 238.4,388.9 238.8,388.5 239.1,383.1 239.4,376.2 239.7,376.7 240.0,378.8 240.3,381.8 240.6,382.5 240.9,355.3 241.2,355.1 241.6,333.4 241.9,330.0 242.2,320.0 242.5,314.2 242.8,318.5 243.1,310.0 243.4,307.0 243.7,306.2 244.1,305.5 244.4,306.3 244.7,301.3 245.0,301.9 245.3,303.9 245.6,306.9 245.9,311.5 246.2,311.2 246.6,321.9 246.9,328.5 247.2,325.8 247.5,335.0 247.8,337.9 248.1,341.1 248.4,350.0 248.8,350.0 249.1,359.3 249.4,358.8 249.7,358.8 250.0,361.7 250.3,364.8 250.6,367.5 250.9,372.2 251.2,375.0 251.6,377.4 251.9,378.8 252.2,379.4 252.5,379.8 252.8,384.8 253.1,387.5 253.4,389.0 253.7,392.8 254.1,397.9 254.4,398.5 254.7,399.7 255.0,402.0 255.3,408.3 255.6,413.8 255.9,410.8 256.2,426.2 256.5,426.0 256.8,424.8 257.1,421.8 257.5,417.0 257.8,410.0 258.1,412.3 258.4,415.7 258.7,416.4 259.1,424.3 259.4,422.6 259.7,425.9 260.0,433.0 260.3,434.0 260.6,437.9 260.9,444.3 261.2,445.4 261.5,455.0 261.8,454.0 262.0,460.0 262.4,448.5 262.7,447.0 263.0,434.8 263.4,432.5 263.7,421.2 264.0,422.0 264.3,421.8 264.6,412.8 264.9,400.9 265.2,396.9 265.5,395.0 265.8,388.2 266.2,383.4 266.5,380.0 266.8,369.0 267.2,373.1 267.5,362.5 267.8,363.5 268.1,330.0 268.4,301.1 268.8,275.0 269.1,277.1 269.4,276.7 269.7,279.0 270.0,283.8 270.3,282.2 270.6,281.0 270.9,282.1 271.2,280.0 271.6,262.0 271.9,248.7 272.2,260.6 272.5,240.0 272.8,229.8 273.1,209.1 273.4,208.3 273.8,196.2 274.1,195.2 274.4,208.5 274.7,221.0 275.0,220.0 275.3,243.9 275.7,252.4 276.0,260.0 276.3,249.6 276.6,244.8 276.9,235.0 277.2,238.5 277.5,227.5 277.8,231.6 278.1,237.8 278.4,237.1 278.8,242.5 279.1,212.7 279.4,217.5 279.7,205.6 280.0,167.5 280.3,166.5 280.7,160.0 281.0,150.0 281.4,141.8 281.8,108.2 282.1,140.0 282.5,152.5 282.8,155.5 283.0,180.0 283.3,188.7 283.7,194.0 284.0,205.0 284.2,199.0 284.5,200.0 284.9,201.3 285.2,230.0 285.6,231.5 285.9,234.6 286.2,240.0 286.6,244.9 286.9,250.5 287.2,249.3 287.5,253.0 287.8,260.8 288.1,264.9 288.4,268.2 288.8,267.5 289.1,271.2 289.4,274.8 289.7,280.6 290.0,290.0 290.3,292.2 290.6,307.5 290.9,304.0 291.2,304.4 291.6,304.1 291.9,300.0 292.2,313.0 292.5,313.6 292.8,323.7 293.1,328.0 293.4,332.4 293.7,329.8 294.0,335.0 294.3,338.6 294.6,342.9 295.0,344.5 295.3,346.7 295.6,347.5 295.9,350.4 296.2,351.1 296.6,359.3 296.9,360.0 297.2,361.3 297.5,367.2 297.8,371.0 298.1,370.0 298.4,375.7 298.8,385.0 299.0,397.3 299.2,417.5 299.6,453.5 300.0,456.2 300.3,453.3 300.6,437.8 300.9,430.6 301.2,430.0 301.6,422.8 301.9,426.5 302.2,421.8 302.5,415.0 302.8,414.9 303.1,421.5 303.4,424.6 303.8,423.8 304.1,426.1 304.4,426.1 304.7,428.7 305.0,430.0 305.3,430.9 305.6,436.8 305.9,463.5 306.2,462.5 306.6,468.6 306.9,471.5 307.2,480.5 307.5,480.0 307.8,481.0 308.1,484.1 308.4,485.2 308.8,485.0 309.1,487.0 309.4,494.6 309.7,502.2 310.0,512.5 310.2,518.4 310.5,545.0 310.9,540.9 311.2,535.0 311.6,537.8 311.9,547.2 312.2,549.2 312.5,562.0 312.8,562.0 313.1,546.1 313.4,541.1 313.8,535.0 314.0,539.1 314.3,545.5 314.6,544.2 314.9,552.3 315.2,551.7 315.5,555.0 315.9,560.3 316.2,565.0 316.6,567.0 316.9,566.0 317.2,570.3 317.5,570.7 317.8,571.5 318.1,578.0 318.4,576.2 318.8,580.0 319.1,582.0 319.4,585.8 319.7,586.9 320.0,587.6 320.3,591.1 320.6,593.5 320.9,597.1 321.2,597.5 321.6,597.6 321.9,609.6 322.2,610.9 322.5,620.0 322.8,638.0 323.0,673.8 323.3,671.4 323.7,660.9 324.0,655.3 324.3,651.8 324.7,647.6 325.0,635.0 325.3,627.5 325.6,623.7 325.9,615.4 326.2,608.8 326.6,610.9 326.9,614.0 327.2,614.6 327.5,617.1 327.8,618.8 328.1,623.6 328.4,624.2 328.8,625.0 329.1,628.8 329.4,630.9 329.7,628.9 330.0,632.0 330.3,638.6 330.6,649.8 330.9,654.1 331.2,655.0 331.6,655.2 331.9,659.1 332.2,666.6 332.5,671.2 332.8,664.2 333.1,662.4 333.4,657.6 333.8,659.6 334.1,657.3 334.4,655.1 334.7,645.2 335.0,645.0 335.3,642.3 335.7,636.2 336.0,624.2 336.3,628.2 336.7,623.9 337.0,612.5 337.3,614.2 337.7,627.9 338.0,627.5 338.3,622.8 338.7,619.9 339.0,620.8 339.3,615.6 339.7,605.6 340.0,605.0 340.3,601.3 340.6,598.9 340.9,594.3 341.2,589.9 341.6,587.8 341.9,588.1 342.2,579.1 342.5,580.0 342.8,578.4 343.1,575.9 343.4,571.6 343.8,571.5 344.1,571.3 344.4,568.8 344.7,564.4 345.0,565.0 345.3,566.0 345.6,553.5 345.9,548.6 346.2,530.0 346.5,518.5 346.8,515.3 347.1,506.3 347.4,511.6 347.7,498.5 348.0,496.2 348.3,496.2 348.7,500.3 349.0,505.7 349.3,507.4 349.7,506.2 350.0,510.0 350.3,505.9 350.6,508.5 350.9,504.4 351.2,502.0 351.6,509.7 351.9,507.0 352.2,511.7 352.5,522.5 352.8,525.0 353.1,525.2 353.4,525.0 353.8,531.0 354.1,531.0 354.4,533.4 354.7,531.3 355.0,535.0 355.3,535.3 355.7,531.9 356.0,533.7 356.3,531.5 356.7,530.3 357.0,530.0 357.3,532.2 357.6,536.2 357.9,534.3 358.2,535.4 358.6,539.5 358.9,539.8 359.2,540.9 359.5,545.0 359.8,546.5 360.1,552.5 360.4,563.6 360.8,577.5 361.0,574.2 361.3,572.1 361.6,572.9 361.9,567.8 362.2,567.1 362.5,565.0 362.8,561.8 363.1,561.1 363.4,557.9 363.8,557.5 364.1,554.7 364.4,556.8 364.7,554.3 365.0,552.5 365.3,552.3 365.7,553.9 366.0,556.1 366.3,554.3 366.7,557.3 367.0,557.0 367.3,555.0 367.6,553.7 367.9,553.8 368.2,549.8 368.6,548.8 368.9,548.0 369.2,547.9 369.5,543.8 369.8,545.1 370.1,551.2 370.4,552.8 370.7,554.7 371.0,555.6 371.3,557.6 371.6,558.0 371.9,561.0 372.2,563.1 372.5,568.8 372.8,568.3 373.1,564.0 373.4,561.8 373.8,559.6 374.1,562.0 374.4,560.4 374.7,557.6 375.0,555.0 375.3,554.8 375.6,555.0 375.9,555.5 376.2,556.2 376.6,555.8 376.9,556.8 377.2,556.6 377.5,557.5 377.8,558.3 378.1,557.5 378.4,555.2 378.8,553.3 379.1,554.9 379.4,551.8 379.7,551.2 380.0,549.1 380.3,549.6 380.6,549.1 380.9,548.3 381.2,547.5 381.6,547.4 381.9,549.7 382.2,548.8 382.5,550.9 382.9,551.3 383.2,553.5 383.5,555.0 383.8,553.3 384.1,552.7 384.4,553.0 384.8,552.3 385.1,552.7 385.4,552.1 385.7,552.2 386.0,551.0 386.3,552.1 386.6,552.9 386.9,554.0 387.2,553.2 387.6,553.6 387.9,556.2 388.2,554.3 388.5,556.0 388.8,556.1 389.1,555.5 389.4,553.4 389.7,555.0 390.0,554.7 390.3,553.6 390.7,553.4 391.0,553.1 391.3,550.9 391.6,551.4 391.9,550.9 392.2,551.3 392.5,550.0 392.8,550.2 393.1,549.3 393.4,547.5 393.8,547.7 394.1,546.0 394.4,545.1 394.7,542.4 395.0,542.5 395.3,538.6 395.6,537.5 395.9,537.1 396.2,534.3 396.6,536.4 396.9,533.4 397.2,532.2 397.5,530.0 397.8,529.0 398.1,527.5 398.4,524.8 398.8,520.5 399.1,523.0 399.4,521.0 399.7,518.0 400.0,516.2 400.3,516.9 400.6,517.9 400.9,516.8 401.2,519.3 401.6,518.5 401.9,518.6 402.2,519.7 402.5,521.0 402.8,521.0 403.1,518.5 403.4,519.5 403.8,519.5 404.1,517.2 404.4,516.1 404.7,515.7 405.0,515.0 405.3,512.7 405.6,509.2 405.9,503.2 406.2,497.5 406.5,495.7 406.8,487.5 407.1,485.0 407.4,482.8 407.7,484.1 408.0,478.8 408.3,479.3 408.7,482.0 409.0,480.9 409.3,482.6 409.7,485.0 410.0,487.5 410.3,485.1 410.7,481.1 411.0,476.8 411.3,468.7 411.7,466.8 412.0,462.5 412.3,461.1 412.6,459.8 412.9,457.0 413.2,459.3 413.5,454.9 413.8,455.0 414.0,455.9 414.3,454.9 414.6,450.8 414.9,451.5 415.2,452.0 415.5,450.0 415.8,451.0 416.1,443.6 416.4,439.0 416.7,435.5 417.0,435.0 417.3,442.1 417.7,439.2 418.0,445.0 418.3,461.7 418.7,462.3 419.0,487.5 419.3,482.8 419.6,483.4 419.9,467.7 420.2,471.7 420.5,462.5 420.8,465.1 421.2,470.1 421.5,471.4 421.8,470.7 422.2,477.7 422.5,477.5 422.8,475.9 423.1,472.0 423.4,470.3 423.8,471.2 424.1,469.4 424.4,467.1 424.7,464.8 425.0,465.0 425.3,463.4 425.6,462.3 425.9,463.3 426.2,459.1 426.5,461.0 426.8,460.3 427.1,456.5 427.4,458.7 427.7,456.8 428.0,455.0 428.3,457.2 428.7,456.0 429.0,457.1 429.3,458.0 429.7,460.8 430.0,460.0 430.3,459.8 430.6,458.7 430.9,458.4 431.2,457.5 431.6,456.5 431.9,456.1 432.2,457.6 432.5,456.2 432.8,457.6 433.2,466.0 433.5,463.6 433.8,466.9 434.2,472.0 434.5,475.0 434.8,473.5 435.1,473.4 435.4,474.5 435.8,473.6 436.1,472.8 436.4,471.6 436.7,471.9 437.0,470.0 437.3,474.4 437.6,474.0 437.9,476.9 438.2,474.9 438.6,480.7 438.9,481.0 439.2,484.6 439.5,485.0 439.8,488.5 440.2,488.6 440.5,492.5 440.8,490.2 441.2,492.3 441.5,488.8 441.8,489.1 442.2,487.8 442.5,487.5 442.8,487.3 443.1,488.7 443.4,489.5 443.8,488.2 444.1,489.4 444.4,488.9 444.7,489.8 445.0,490.0 445.3,488.3 445.6,486.1 445.9,484.8 446.2,483.7 446.6,485.5 446.9,482.5 447.2,480.0 447.5,480.0 447.8,480.6 448.1,480.2 448.4,478.0 448.8,476.4 449.1,476.0 449.4,475.0 449.7,475.2 450.0,475.0 450.3,473.0 450.6,472.7 450.9,472.0 451.2,472.3 451.6,472.6 451.9,471.4 452.2,469.6 452.5,468.9 452.8,468.5 453.1,467.3 453.4,466.5 453.8,466.2 454.1,465.6 454.4,467.1 454.7,470.1 455.0,468.1 455.3,470.2 455.6,471.4 455.9,472.9 456.2,472.5 456.6,471.8 456.9,471.7 457.2,471.5 457.5,471.7 457.8,471.6 458.1,472.4 458.4,472.1 458.8,471.2 459.1,473.2 459.4,471.2 459.7,472.0 460.1,474.9 460.4,476.3 460.7,475.7 461.0,476.8 461.4,475.7 461.7,477.7 462.0,478.8 462.3,479.4 462.6,478.5 462.9,478.0 463.2,477.7 463.5,474.9 463.8,475.0 464.0,470.4 464.3,468.6 464.6,468.9 464.9,467.9 465.2,467.5 465.5,462.5 465.8,461.5 466.2,458.5 466.5,456.8 466.8,452.2 467.2,450.3 467.5,447.5 467.8,442.4 468.1,444.9 468.4,439.2 468.8,441.4 469.1,437.5 469.4,433.1 469.7,429.8 470.0,430.0 470.3,428.6 470.6,429.2 470.9,428.7 471.2,427.5 471.6,418.8 471.9,413.9 472.2,414.6 472.5,410.0 472.8,409.1 473.1,407.0 473.4,405.0 473.8,405.0 474.1,403.2 474.4,396.5 474.7,396.1 475.0,395.0 475.3,392.9 475.6,393.9 475.9,390.2 476.2,389.7 476.6,385.5 476.9,382.2 477.2,380.4 477.5,380.0 477.8,380.8 478.1,375.5 478.4,369.0 478.8,363.4 479.1,364.4 479.4,362.7 479.7,357.4 480.0,355.0 480.3,345.0 480.6,345.1 480.9,342.8 481.2,330.0 481.6,330.8 481.9,332.3 482.2,338.0 482.5,342.5 482.8,338.7 483.1,337.8 483.4,330.6 483.8,330.0 484.1,328.3 484.4,321.2 484.7,311.3 485.0,305.0 485.3,294.2 485.6,299.7 485.9,283.4 486.2,284.9 486.6,269.6 486.9,263.2 487.2,265.3 487.5,255.0 487.8,252.9 488.1,254.5 488.4,251.2 488.8,250.0 489.1,229.5 489.4,218.6 489.7,212.1 490.0,202.5 490.3,195.8 490.6,192.3 490.9,159.1 491.2,154.6 491.5,146.2 491.8,153.1 492.2,200.4 492.5,200.0 492.8,205.7 493.2,222.1 493.5,260.0 493.8,317.5 494.1,271.2 494.5,260.0 494.8,245.6 495.1,247.6 495.4,235.7 495.8,213.8 496.1,218.6 496.5,220.0 496.8,222.9 497.1,223.7 497.4,222.3 497.7,222.8 498.0,225.0 498.2,246.0 498.5,245.0 498.9,258.1 499.2,262.5 499.6,261.9 500.0,265.0 500.3,266.5 500.6,266.4 500.9,267.4 501.2,268.8 501.6,269.7 501.9,270.6 502.2,271.5 502.5,276.2 502.8,273.6 503.1,272.4 503.4,273.9 503.8,270.0 504.1,265.2 504.5,265.0 504.8,265.8 505.1,262.9 505.4,262.7 505.7,263.5 506.0,262.9 506.2,261.2 506.5,262.4 506.8,261.9 507.1,265.5 507.4,266.4 507.7,270.7 508.0,270.0 508.4,270.1 508.8,272.5 509.1,274.9 509.4,283.9 509.7,279.1 510.0,287.5 510.3,291.9 510.6,303.1 510.9,308.1 511.2,310.0 511.6,309.3 511.9,310.2 512.2,311.2 512.5,315.3 512.8,313.8 513.1,316.5 513.4,318.0 513.8,317.5 514.1,318.3 514.4,319.5 514.7,324.5 515.0,324.3 515.3,324.1 515.6,328.0 515.9,327.5 516.2,330.0 516.6,332.8 516.9,334.9 517.2,352.7 517.5,355.0 517.8,370.0 518.1,372.4 518.4,385.5 518.8,385.0 519.1,373.7 519.4,371.2 519.7,369.2 520.0,370.3 520.3,365.1 520.6,352.6 520.9,345.7 521.2,343.8 521.5,346.4 521.8,350.4 522.1,357.8 522.4,354.1 522.7,363.3 523.0,363.8 523.3,363.3 523.6,362.1 524.0,360.2 524.3,357.8 524.6,354.8 525.0,353.1 525.3,351.7 525.6,352.2 525.9,347.0 526.2,347.5 526.6,347.4 526.9,350.8 527.2,349.9 527.5,350.3 527.8,351.3 528.1,354.6 528.4,354.8 528.8,358.6 529.1,359.4 529.4,361.0 529.7,359.1 530.0,361.2 530.3,357.9 530.6,356.5 530.9,357.0 531.2,356.6 531.6,354.0 531.9,351.6 532.2,351.0 532.5,350.0 532.8,349.0 533.1,347.6 533.4,346.3 533.8,345.2 534.1,342.5 534.4,338.0 534.7,340.1 535.0,335.6 535.3,335.4 535.6,332.7 535.9,332.9 536.2,330.0 536.6,330.2 536.9,332.3 537.2,334.2 537.5,335.5 537.8,341.6 538.1,341.7 538.4,342.1 538.8,345.0 539.1,344.4 539.4,345.5 539.7,344.1 540.0,343.1 540.3,344.1 540.6,343.5 540.9,343.9 541.2,342.5 541.6,342.0 541.9,344.9 542.2,347.6 542.5,349.0 542.8,350.6 543.1,348.0 543.4,350.4 543.8,352.5 544.1,351.4 544.4,351.3 544.8,352.8 545.1,351.7 545.4,352.2 545.8,351.0 546.1,354.7 546.4,366.7 546.7,366.4 547.0,372.5 547.3,368.2 547.6,369.6 547.9,368.3 548.2,359.5 548.5,360.7 548.8,357.5 549.1,355.6 549.4,349.7 549.7,348.0 550.0,343.5 550.3,341.1 550.6,338.7 550.9,338.6 551.2,335.0 551.6,333.0 551.9,325.4 552.2,320.2 552.5,319.7 552.8,319.4 553.1,311.5 553.4,309.2 553.8,307.5 554.1,306.5 554.4,307.6 554.7,306.7 555.0,305.3 555.3,305.0 555.6,305.4 555.9,305.4 556.2,305.0 556.6,300.5 556.9,284.4 557.2,278.7 557.5,277.5 557.8,274.7 558.1,264.4 558.4,256.7 558.7,251.2 559.0,255.3 559.2,242.5 559.6,227.7 559.9,223.2 560.2,208.0 560.6,198.9 560.9,198.8 561.2,180.0 561.5,181.0 561.8,160.4 562.1,148.6 562.4,151.5 562.7,132.0 563.0,130.0 563.3,118.1 563.7,124.2 564.0,112.5 564.3,112.1 564.7,101.3 565.0,97.0 565.3,112.8 565.6,112.7 565.9,115.1 566.2,130.0 566.6,131.4 567.0,170.0 567.3,161.9 567.7,154.6 568.0,142.5 568.3,157.7 568.6,149.8 568.9,167.3 569.2,170.1 569.5,180.0 569.8,190.7 570.1,192.4 570.4,206.5 570.8,222.5 571.0,217.8 571.3,218.2 571.6,202.3 571.9,202.4 572.2,201.6 572.5,192.5 572.8,193.3 573.1,187.8 573.4,185.9 573.8,188.5 574.1,187.1 574.4,183.0 574.7,179.3 575.0,180.0 575.3,180.7 575.6,173.2 575.9,174.7 576.2,169.4 576.5,168.2 576.8,162.5 577.1,163.1 577.4,174.5 577.7,172.5 578.0,180.0 578.3,181.5 578.7,186.2 579.0,188.2 579.3,186.5 579.7,188.8 580.0,192.5 580.3,193.3 580.6,195.1 580.9,195.7 581.2,195.9 581.6,197.6 581.9,201.0 582.2,203.0 582.5,202.5 582.8,201.8 583.1,204.6 583.4,206.3 583.8,204.6 584.1,208.4 584.4,206.7 584.7,209.4 585.0,210.0 585.3,213.8 585.6,217.9 585.9,218.2 586.2,222.6 586.5,227.4 586.8,230.0 587.1,238.5 587.5,250.0 587.8,251.5 588.1,251.7 588.4,252.6 588.8,252.0 589.1,255.1 589.4,255.6 589.7,255.6 590.0,257.5 590.3,258.9 590.6,259.6 590.9,259.3 591.2,260.0 591.6,262.6 591.9,280.6 592.2,282.1 592.5,302.5 592.8,289.4 593.1,287.6 593.4,275.0 593.8,275.0 594.1,266.6 594.5,260.0 594.8,262.6 595.1,261.6 595.4,268.5 595.7,266.9 596.0,274.3 596.2,275.0 596.6,277.0 596.9,276.9 597.2,276.2 597.5,278.8 597.8,279.2 598.1,282.3 598.4,280.2 598.8,282.5 599.1,290.9 599.4,296.8 599.7,298.2 600.0,300.0 600.3,302.0 600.6,300.6 600.9,304.2 601.2,303.3 601.5,305.8 601.8,305.0 602.1,317.6 602.4,312.4 602.7,328.2 603.0,330.0 603.3,334.7 603.6,331.3 603.9,335.1 604.2,339.6 604.5,340.0 604.8,340.2 605.1,351.6 605.4,348.9 605.7,358.3 606.0,355.0 606.2,362.5 606.5,356.7 606.8,357.3 607.1,340.5 607.4,335.5 607.7,333.4 608.0,327.5 608.3,329.0 608.7,329.8 609.0,333.8 609.3,336.6 609.7,345.4 610.0,345.0 610.3,347.5 610.6,350.1 610.9,348.0 611.2,352.7 611.6,350.9 611.9,354.5 612.2,356.6 612.5,357.5 612.8,358.1 613.1,361.6 613.4,361.5 613.8,362.8 614.1,365.4 614.4,363.3 614.7,368.4 615.0,367.5 615.3,367.7 615.6,367.3 615.9,368.0 616.2,367.1 616.6,368.3 616.9,367.6 617.2,367.3 617.5,367.5 617.8,366.5 618.1,360.1 618.4,354.2 618.8,356.0 619.1,346.2 619.4,349.8 619.7,341.2 620.0,340.0 620.3,338.7 620.6,338.7 620.9,333.8 621.2,332.1 621.6,327.5 621.9,323.2 622.2,321.2 622.5,322.0 622.8,321.7 623.1,324.4 623.4,324.7 623.8,326.0 624.1,328.5 624.4,326.6 624.7,328.0 625.0,330.0 625.3,336.1 625.6,333.4 625.9,337.5 626.2,347.5 626.5,346.7 626.8,345.6 627.1,345.9 627.4,345.1 627.7,345.6 628.0,345.0 628.3,347.3 628.6,346.8 628.9,350.9 629.2,351.9 629.5,353.8 629.8,350.6 630.1,353.0 630.4,348.3 630.8,346.5 631.1,344.8 631.4,346.0 631.7,345.6 632.0,342.5 632.3,345.7 632.6,345.3 632.9,346.2 633.2,346.5 633.5,351.6 633.8,352.5 634.1,353.0 634.4,352.8 634.7,353.8 635.0,353.6 635.3,355.1 635.6,354.9 635.9,354.1 636.2,355.0 636.6,358.0 636.9,355.5 637.2,358.9 637.5,359.6 637.8,360.1 638.1,360.6 638.4,365.0 638.8,365.0 639.1,364.1 639.4,367.4 639.7,370.0 640.0,367.9 640.3,369.3 640.6,372.0 640.9,372.7 641.2,373.8 641.6,374.6 641.9,375.5 642.2,374.3 642.5,375.1 642.8,375.6 643.1,375.4 643.4,378.1 643.8,377.5 644.0,381.4 644.3,383.1 644.6,380.5 644.9,388.1 645.2,389.5 645.5,390.0 645.9,394.6 646.2,400.0 646.6,404.0 647.0,405.0 647.3,406.0 647.6,406.3 647.9,407.0 648.2,408.8 648.5,409.2 648.8,412.5 649.1,412.2 649.4,412.9 649.7,412.8 650.0,412.5 650.3,414.7 650.6,415.2 650.9,414.5 651.2,416.4 651.6,417.0 651.9,419.2 652.2,419.1 652.5,420.0 652.8,420.0 653.1,421.9 653.4,423.7 653.8,422.0 654.1,424.9 654.4,422.8 654.7,424.3 655.0,425.0 655.3,427.3 655.6,428.7 655.9,428.8 656.2,428.8 656.6,431.4 656.9,442.7 657.2,440.8 657.5,447.5 657.8,445.1 658.1,446.8 658.4,444.3 658.8,442.5 659.1,448.2 659.4,451.6 659.7,458.5 660.0,457.5 660.3,459.8 660.6,464.9 660.9,466.4 661.2,467.5 661.6,489.8 662.0,493.8 662.3,485.6 662.7,483.2 663.0,472.5 663.3,470.0 663.6,464.6 663.9,460.7 664.2,461.2 664.5,457.0 664.8,456.3 665.1,465.3 665.4,462.0 665.7,463.7 666.0,466.9 666.2,472.5 666.6,475.6 666.9,474.3 667.2,474.7 667.5,475.4 667.8,476.8 668.1,480.8 668.4,481.8 668.8,482.5 669.1,485.5 669.4,487.5 669.8,485.7 670.1,490.5 670.4,491.1 670.8,493.8 671.0,493.7 671.3,491.4 671.6,489.6 671.9,481.5 672.2,484.9 672.5,480.0 672.8,480.3 673.1,475.9 673.4,461.3 673.8,461.2 674.1,462.2 674.4,465.3 674.7,468.5 675.0,477.5 675.3,480.5 675.7,481.7 676.0,482.4 676.3,484.6 676.7,485.2 677.0,486.0 677.3,484.2 677.6,482.4 677.9,481.4 678.2,483.0 678.5,479.8 678.8,480.0 679.1,480.2 679.4,481.3 679.7,480.8 680.0,482.3 680.3,483.2 680.6,485.4 680.9,485.0 681.2,486.2 681.6,487.0 681.9,492.2 682.2,491.4 682.5,495.0 682.8,495.5 683.1,494.0 683.4,497.8 683.8,500.0 684.1,501.0 684.4,503.7 684.7,503.1 685.0,505.9 685.3,506.4 685.6,506.3 685.9,510.3 686.2,510.0 686.6,508.2 686.9,509.7 687.2,507.1 687.5,507.5 687.8,506.6 688.2,509.9 688.5,515.3 688.8,518.7 689.2,515.0 689.5,520.0 689.8,525.3 690.2,530.7 690.5,536.2 690.8,536.2 691.1,531.0 691.4,531.0 691.7,528.4 692.0,527.5 692.2,554.3 692.5,555.0 692.9,563.7 693.2,587.5 693.5,588.3 693.8,579.8 694.1,576.3 694.4,577.5 694.7,572.9 695.0,570.0 695.3,553.1 695.6,555.3 695.9,535.0 696.2,535.0 696.5,542.5 696.8,545.6 697.1,550.8 697.4,553.1 697.7,554.2 698.0,560.0 698.3,561.2 698.7,562.8 699.0,567.0 699.3,564.6 699.7,570.3 700.0,570.0 700.3,569.2 700.6,569.7 700.9,570.0 701.2,571.4 701.6,570.8 701.9,570.7 702.2,571.8 702.5,571.2 702.8,564.4 703.1,562.7 703.4,559.4 703.8,555.0 704.1,556.9 704.4,557.8 704.7,558.3 705.0,558.2 705.3,559.1 705.6,559.4 705.9,562.8 706.2,562.5 706.6,561.4 706.9,559.7 707.2,553.8 707.5,553.4 707.8,553.3 708.1,549.9 708.4,544.8 708.8,545.0 709.1,543.6 709.4,544.2 709.7,540.1 710.0,538.7 710.3,537.9 710.6,538.4 710.9,537.7 711.2,535.0 711.6,534.9 711.9,536.8 712.2,539.2 712.5,541.5 712.8,544.5 713.1,544.3 713.4,547.1 713.8,550.0 714.1,550.5 714.4,560.3 714.7,561.3 715.0,562.5 715.3,560.7 715.6,562.6 715.9,559.4 716.2,559.7 716.6,560.8 716.9,559.6 717.2,558.8 717.5,557.5 717.8,558.7 718.1,559.1 718.4,562.9 718.8,561.8 719.1,563.8 719.4,566.3 719.7,566.1 720.0,570.0 720.3,571.3 720.6,575.5 720.9,576.8 721.2,577.5 721.5,580.2 721.8,581.2 722.1,580.1 722.4,577.8 722.8,578.5 723.1,576.7 723.4,576.9 723.8,575.0 724.1,575.6 724.4,574.2 724.7,574.2 725.0,574.3 725.3,573.3 725.6,572.5 725.9,573.3 726.2,572.5 726.6,573.0 726.9,572.4 727.2,571.9 727.5,571.9 727.8,571.1 728.1,570.6 728.4,569.8 728.8,569.5 729.1,569.4 729.4,570.5 729.7,569.6 730.0,570.7 730.3,571.9 730.6,572.1 730.9,572.3 731.2,571.7 731.6,572.5 731.9,572.9 732.2,573.7 732.5,573.8 732.8,573.4 733.1,573.8 733.4,574.1 733.8,572.5 734.1,573.3 734.4,573.4 734.7,572.4 735.0,572.5 735.3,573.7 735.6,577.1 735.9,574.2 736.2,577.7 736.6,577.3 736.9,581.2 737.2,583.2 737.5,582.5 737.8,582.1 738.1,580.5 738.4,581.3 738.8,580.7 739.1,580.7 739.4,579.7 739.7,579.6 740.0,578.8 740.3,579.0 740.6,576.6 740.9,575.1 741.2,576.2 741.6,572.1 741.9,572.9 742.2,570.7 742.5,570.0 742.8,570.4 743.1,569.4 743.4,570.8 743.8,569.8 744.1,569.3 744.4,569.6 744.7,569.8 745.0,570.0 745.3,565.3 745.6,565.8 745.9,563.9 746.2,563.6 746.6,559.8 746.9,557.4 747.2,555.3 747.5,555.0 747.8,554.5 748.1,553.7 748.4,548.9 748.7,544.8 749.0,546.5 749.2,542.5 749.6,543.9 749.9,545.0 750.2,546.6 750.6,552.5 750.9,554.7 751.2,555.0 751.6,554.8 751.9,553.7 752.2,553.3 752.5,551.7 752.8,553.3 753.1,550.8 753.4,551.0 753.8,550.0 754.1,552.1 754.4,553.0 754.7,552.7 755.0,553.0 755.3,554.9 755.6,554.3 755.9,557.8 756.2,557.5 756.6,558.1 756.9,561.5 757.2,560.2 757.5,562.0 757.8,562.7 758.1,564.7 758.4,564.9 758.8,567.5 759.1,566.5 759.4,573.3 759.7,572.7 760.0,574.6 760.3,577.2 760.6,580.5 760.9,582.4 761.2,585.0 761.5,587.7 761.8,589.7 762.1,589.8 762.4,595.1 762.7,596.5 763.0,596.2 763.3,592.0 763.6,594.6 763.9,593.3 764.2,590.8 764.5,587.5 764.8,585.2 765.1,586.8 765.4,585.2 765.8,582.0 766.1,581.0 766.4,583.5 766.7,581.5 767.0,580.0 767.3,580.0 767.6,580.4 767.9,581.6 768.2,583.0 768.5,586.1 768.8,585.4 769.1,585.6 769.4,589.6 769.7,590.1 770.0,590.0 770.3,588.7 770.6,590.2 770.9,589.0 771.2,589.0 771.6,588.3 771.9,588.5 772.2,587.8 772.5,587.5 772.8,585.5 773.1,586.3 773.4,585.5 773.8,585.0 774.1,585.2 774.4,584.0 774.7,584.7 775.0,583.5 775.3,582.3 775.6,581.8 775.9,581.2 776.2,581.6 776.6,580.1 776.9,580.8 777.2,579.5 777.5,580.0 777.8,578.4 778.1,576.9 778.4,575.5 778.8,575.6 779.1,569.7 779.4,572.3 779.7,568.9 780.0,567.5 780.3,566.3 780.6,565.2 780.9,564.5 781.2,560.6 781.6,559.3 781.9,560.4 782.2,554.4 782.5,555.0 782.8,552.6 783.1,548.8 783.4,539.1 783.8,540.0 784.1,532.2 784.5,520.0 784.9,513.6 785.2,500.0 785.6,514.9 785.9,512.1 786.2,522.5 786.6,537.4 786.9,536.4 787.2,542.9 787.5,550.0 787.8,550.5 788.1,546.4 788.4,548.0 788.8,546.7 789.1,544.7 789.4,545.7 789.7,542.9 790.0,542.5 790.3,543.9 790.6,545.8 790.9,548.6 791.2,548.8 791.5,543.0 791.8,541.9 792.1,538.7 792.4,536.7 792.7,536.1 793.0,530.0 793.3,530.2 793.6,533.3 793.9,532.6 794.2,534.0 794.5,535.0 794.8,528.2 795.1,526.7 795.4,527.9 795.7,520.1 796.0,517.5 796.2,510.0 796.6,508.4 796.9,507.3 797.2,506.2 797.5,506.3 797.8,505.5 798.1,505.1 798.4,501.3 798.8,502.0 799.1,503.8 799.4,505.5 799.7,505.2 800.0,504.3 800.3,506.2 800.6,506.1 800.9,507.8 801.2,510.0 801.6,513.1 801.9,513.0 802.2,514.4 802.5,515.0 802.8,515.0 803.2,514.2 803.5,511.7 803.8,510.5 804.2,509.3 804.5,507.5 804.8,508.4 805.1,508.6 805.4,509.2 805.7,508.4 806.0,510.0 806.2,510.0 806.5,513.9 806.8,521.9 807.1,518.4 807.4,523.7 807.7,526.4 808.0,536.2 808.3,535.9 808.7,534.8 809.0,531.5 809.3,528.0 809.7,528.6 810.0,525.0 810.3,528.0 810.6,528.4 810.9,528.5 811.2,530.3 811.6,532.4 811.9,533.5 812.2,535.6 812.5,537.5 812.8,537.9 813.1,538.7 813.4,537.1 813.8,538.3 814.1,537.4 814.4,537.7 814.7,539.2 815.0,538.8 815.3,538.0 815.6,538.2 815.9,535.3 816.2,532.4 816.6,532.8 816.9,532.6 817.2,532.8 817.5,530.0 817.8,530.9 818.1,527.1 818.4,525.4 818.8,522.5 819.1,523.6 819.4,520.2 819.7,518.5 820.0,518.8 820.3,517.9 820.6,519.0 820.9,522.8 821.2,521.6 821.6,526.1 821.9,523.7 822.2,527.9 822.5,527.5 822.8,527.0 823.1,527.3 823.4,530.0 823.8,529.2 824.1,531.3 824.4,530.3 824.7,530.5 825.0,532.5 825.3,532.8 825.6,532.1 825.9,532.0 826.2,531.2 826.6,529.1 826.9,530.0 827.2,529.8 827.5,528.8 827.8,528.9 828.1,530.1 828.4,528.9 828.8,530.5 829.1,530.2 829.4,529.0 829.7,529.2 830.0,530.7 830.3,531.3 830.6,530.0 830.9,530.7 831.2,531.2 831.6,531.6 831.9,530.4 832.2,531.6 832.5,530.8 832.8,529.9 833.1,530.4 833.4,530.7 833.8,530.3 834.1,530.6 834.4,529.6 834.7,530.6 835.0,530.0 835.3,529.2 835.6,529.4 835.9,528.9 836.2,527.9 836.6,527.4 836.9,527.9 837.2,527.9 837.5,526.2 837.8,526.4 838.1,524.8 838.4,523.0 838.8,521.4 839.1,523.7 839.4,521.9 839.7,521.5 840.0,519.5 840.3,519.6 840.6,520.9 840.9,522.4 841.2,522.5 841.6,522.4 841.9,522.2 842.2,523.0 842.5,523.8 842.8,524.6 843.1,523.7 843.4,524.4 843.8,524.4 844.1,525.0 844.4,524.9 844.7,524.1 845.0,523.7 845.3,524.3 845.6,524.6 845.9,525.1 846.2,525.0 846.6,526.5 846.9,527.4 847.2,525.6 847.6,528.5 847.9,529.0 848.2,528.8 848.5,528.8 848.8,521.6 849.1,514.4 849.4,516.8 849.7,512.3 850.0,505.0 850.3,504.4 850.6,504.0 850.9,499.5 851.2,496.7 851.6,497.5 851.9,497.1 852.2,492.6 852.5,492.5 852.8,493.9 853.1,495.0 853.4,493.6 853.8,495.0 854.1,489.4 854.4,483.2 854.7,471.9 855.0,465.0 855.3,462.5 855.6,461.4 855.9,462.3 856.2,460.0 856.5,468.2 856.8,468.7 857.1,468.6 857.4,482.1 857.7,486.3 858.0,487.5 858.3,483.8 858.7,483.8 859.0,483.6 859.3,481.4 859.7,477.2 860.0,475.0 860.3,476.5 860.7,478.8 861.0,478.4 861.3,480.1 861.7,481.7 862.0,485.0 862.3,485.1 862.6,483.9 862.9,484.0 863.2,483.3 863.5,483.2 863.8,481.9 864.1,481.3 864.4,483.2 864.7,481.3 865.0,481.2 865.3,480.7 865.6,482.7 865.9,483.6 866.2,482.4 866.6,484.1 866.9,483.9 867.2,484.9 867.5,484.1 867.8,484.7 868.1,487.8 868.4,488.0 868.8,487.5 869.1,490.5 869.4,494.3 869.7,494.9 870.0,500.0 870.4,509.9 870.8,512.5 871.0,511.5 871.4,512.5 871.6,511.1 872.0,510.6 872.2,510.3 872.5,507.2 872.9,505.7 873.1,505.5 873.5,504.7 873.8,505.0 874.1,504.4 874.4,504.7 874.7,506.4 875.0,507.6 875.3,507.0 875.6,508.6 875.9,508.9 876.2,507.2 876.6,509.0 876.9,508.9 877.2,508.6 877.5,510.0 877.8,510.7 878.1,507.5 878.4,507.7 878.8,507.1 879.1,507.4 879.4,505.6 879.7,503.8 880.0,503.2 880.3,501.3 880.6,503.3 880.9,502.5 881.2,500.0 881.6,499.8 881.9,499.9 882.2,501.1 882.5,502.1 882.8,504.3 883.1,505.0 883.4,505.4 883.8,503.7 884.1,506.5 884.4,506.9 884.7,507.3 885.0,507.5 885.3,508.3 885.6,506.8 885.9,506.9 886.2,507.9 886.6,508.2 886.9,507.8 887.2,507.2 887.5,507.6 887.8,507.9 888.1,506.9 888.4,507.2 888.8,507.1 889.1,506.9 889.4,507.5 889.7,507.0 890.0,507.5 890.3,506.7 890.6,506.3 890.9,507.2 891.2,505.5 891.6,506.8 891.9,505.4 892.2,504.9 892.5,506.5 892.8,504.8 893.1,506.1 893.4,505.7 893.8,505.5 894.1,503.7 894.4,504.1 894.7,503.1 895.0,503.8 895.3,504.3 895.6,502.2 895.9,499.3 896.2,496.6 896.6,494.3 896.9,495.2 897.2,491.6 897.5,490.0 897.8,490.0 898.1,488.6 898.4,488.4 898.8,487.7 899.1,488.9 899.4,488.2 899.7,487.0 900.0,487.5 900.3,489.8 900.6,488.5 900.9,490.0 901.2,490.0 901.6,491.3 901.9,494.4 902.2,493.5 902.5,495.0 902.8,492.6 903.1,492.8 903.4,491.0 903.8,492.2 904.1,488.0 904.4,490.4 904.7,485.6 905.0,486.2 905.3,486.9 905.6,486.5 905.9,485.8 906.2,486.2 906.6,485.9 906.9,485.9 907.2,485.8 907.5,486.0 907.8,487.0 908.1,487.0 908.4,486.9 908.8,485.6 909.1,485.9 909.4,486.9 909.7,485.5 910.0,486.2 910.3,486.4 910.6,484.9 910.9,486.2 911.2,483.4 911.6,484.9 911.9,483.3 912.2,482.4 912.5,481.7 912.8,483.3 913.1,482.2 913.4,480.9 913.8,481.2 914.0,478.3 914.3,479.3 914.6,471.6 914.9,471.8 915.2,466.0 915.5,466.2 915.8,463.3 916.2,464.6 916.5,462.9 916.8,459.0 917.2,457.0 917.5,457.5 917.8,449.1 918.1,450.5 918.4,445.3 918.8,441.2 919.1,444.5 919.4,450.5 919.7,464.8 920.0,470.0 920.3,476.7 920.6,482.2 920.9,484.1 921.2,487.5 921.6,483.4 921.9,480.3 922.2,482.4 922.5,478.2 922.8,478.0 923.1,471.5 923.4,474.2 923.8,470.0 924.1,468.6 924.4,469.5 924.7,468.8 925.0,466.6 925.3,464.2 925.6,466.4 925.9,464.1 926.2,464.6 926.6,461.7 926.9,460.6 927.2,462.0 927.5,460.0 927.8,460.0 928.1,459.9 928.4,460.6 928.8,461.5 929.1,460.4 929.4,461.9 929.7,462.1 930.0,462.5 930.3,461.1 930.6,457.8 930.9,459.2 931.2,458.2 931.6,457.0 931.9,452.9 932.2,453.3 932.5,450.3 932.8,450.6 933.1,445.8 933.4,448.3 933.8,445.0 934.1,445.7 934.4,442.2 934.7,440.9 935.0,439.6 935.4,438.3 935.7,434.6 936.0,437.5 936.4,432.8 936.7,431.2 937.0,431.2 937.3,430.7 937.6,433.8 937.9,439.6 938.2,436.5 938.5,439.0 938.8,443.8 939.0,443.4 939.3,439.9 939.6,437.8 939.9,439.2 940.2,437.8 940.5,436.2 940.8,441.3 941.2,448.2 941.5,446.1 941.8,459.7 942.2,462.7 942.5,465.0 942.8,464.1 943.1,467.2 943.4,472.5 943.7,475.0 944.0,475.8 944.2,480.0 944.6,472.0 944.9,470.7 945.2,463.8 945.6,464.3 945.9,462.8 946.2,455.0 946.6,452.5 946.9,453.1 947.2,452.7 947.5,449.3 947.8,450.8 948.1,450.2 948.4,446.9 948.8,446.2 949.1,445.9 949.4,446.6 949.7,445.8 950.0,445.4 950.3,446.3 950.6,445.9 950.9,444.8 951.2,445.0 951.6,444.3 951.9,444.4 952.2,444.4 952.5,445.3 952.8,444.8 953.1,444.9 953.4,444.5 953.8,443.8 954.1,443.6 954.4,434.6 954.7,435.4 955.0,432.5 955.3,433.3 955.6,429.3 955.9,418.8 956.2,417.5 956.5,413.9 956.8,412.8 957.1,407.6 957.4,406.1 957.7,399.3 958.0,400.0 958.3,400.7 958.6,402.0 958.9,401.1 959.2,402.6 959.5,405.0 959.8,406.0 960.1,400.4 960.4,398.3 960.7,391.4 961.0,389.5 961.2,382.5 961.6,382.0 961.9,374.8 962.2,352.8 962.5,353.8 962.8,363.4 963.1,364.0 963.4,378.4 963.8,382.5 964.0,373.8 964.3,372.3 964.6,372.4 964.9,362.6 965.2,351.8 965.5,350.0 965.8,348.7 966.1,346.9 966.4,347.9 966.8,343.4 967.1,342.1 967.4,342.3 967.7,338.4 968.0,338.8 968.3,345.6 968.7,356.0 969.0,355.8 969.3,358.2 969.7,366.4 970.0,372.5 970.3,369.7 970.6,363.1 970.9,359.8 971.2,356.7 971.5,355.0 971.8,353.8 972.1,355.6 972.4,357.3 972.8,359.5 973.1,361.0 973.4,366.6 973.8,368.8 974.0,369.1 974.3,367.1 974.6,365.9 974.9,365.2 975.2,362.3 975.5,362.5 975.8,365.2 976.2,365.6 976.5,367.7 976.8,369.7 977.2,370.7 977.5,372.5 977.8,375.4 978.1,380.2 978.4,385.7 978.7,396.0 979.0,399.9 979.2,407.5 979.6,400.6 979.9,381.0 980.2,379.0 980.6,380.3 980.9,359.8 981.2,356.2 981.6,359.2 981.9,361.2 982.2,362.2 982.5,366.2 982.8,367.0 983.2,363.4 983.5,364.1 983.8,360.8 984.2,359.4 984.5,360.0 984.8,360.0 985.1,350.1 985.4,340.8 985.7,340.3 986.0,336.3 986.2,332.5 986.6,331.2 986.9,322.0 987.2,319.7 987.5,323.0 987.8,317.5 988.1,308.7 988.4,306.9 988.8,305.0 989.0,306.1 989.3,310.3 989.6,312.0 989.9,315.6 990.2,317.5 990.5,317.5 990.8,314.7 991.1,313.5 991.4,310.6 991.7,307.7 992.0,302.5 992.3,301.1 992.6,301.3 992.9,299.7 993.2,299.4 993.5,294.6 993.8,295.0 994.0,301.1 994.3,296.6 994.6,306.0 994.9,307.4 995.2,309.6 995.5,312.5 995.8,316.9 996.2,316.6 996.5,317.7 996.8,321.6 997.2,323.9 997.5,323.8 997.8,331.3 998.1,333.9 998.4,340.9 998.8,347.5 999.0,344.7 999.3,344.2 999.6,338.4 999.9,336.7 1000.2,335.4 1000.5,332.5 1000.8,330.8 1001.2,329.3 1001.5,329.9 1001.8,329.0 1002.2,326.2 1002.5,325.0 1002.8,322.8 1003.1,319.4 1003.4,318.3 1003.8,317.5 1004.1,316.9 1004.4,317.6 1004.7,317.6 1005.0,317.5 1005.3,310.3 1005.6,314.5 1005.9,305.6 1006.2,306.9 1006.6,303.4 1006.9,301.1 1007.2,290.7 1007.5,290.0 1007.8,288.4 1008.1,289.3 1008.4,284.1 1008.8,283.0 1009.1,284.0 1009.4,282.5 1009.7,283.1 1010.0,280.0 1010.3,285.4 1010.6,286.6 1010.9,293.5 1011.2,292.5 1011.6,288.2 1011.9,283.6 1012.2,281.1 1012.5,273.1 1012.8,268.2 1013.1,266.4 1013.4,259.1 1013.8,256.2 1014.1,264.4 1014.4,265.5 1014.7,267.7 1015.0,267.3 1015.3,273.8 1015.6,277.8 1015.9,283.1 1016.2,286.2 1016.6,279.8 1016.9,277.8 1017.2,271.5 1017.5,255.0 1017.8,254.2 1018.1,253.2 1018.4,253.1 1018.8,253.5 1019.1,250.6 1019.4,250.4 1019.7,250.6 1020.0,248.8 1020.3,241.5 1020.6,239.1 1020.9,241.9 1021.2,236.5 1021.6,229.3 1021.9,221.3 1022.2,225.4 1022.5,217.5 1022.8,214.0 1023.2,209.6 1023.5,205.9 1023.8,198.1 1024.2,185.1 1024.5,180.0 1024.8,170.7 1025.1,167.4 1025.4,165.1 1025.8,160.0 1026.0,157.1 1026.3,151.5 1026.6,148.6 1026.9,149.4 1027.2,146.3 1027.5,142.5 1027.8,146.5 1028.1,162.6 1028.4,163.3 1028.8,167.5 1029.1,166.7 1029.4,178.6 1029.7,190.7 1030.0,192.5 1030.3,186.4 1030.6,186.4 1030.9,175.2 1031.2,176.2 1031.6,183.6 1032.0,200.0 1032.3,199.6 1032.6,191.5 1032.9,187.8 1033.2,176.9 1033.5,176.0 1033.8,171.2 1034.1,178.0 1034.4,179.7 1034.7,191.2 1035.0,195.0 1035.3,197.7 1035.6,203.5 1035.9,203.0 1036.2,205.0 1036.6,211.9 1036.9,214.6 1037.2,224.1 1037.5,240.0 1037.8,238.0 1038.1,223.2 1038.4,217.5 1038.8,217.5 1039.1,218.5 1039.4,229.1 1039.7,238.9 1040.0,240.0 1040.4,236.2 1040.8,230.0 1041.1,247.2 1041.4,239.7 1041.7,248.5 1042.0,270.0 1042.3,284.9 1042.6,284.3 1042.9,301.8 1043.2,306.2 1043.5,299.0 1043.8,291.2 1044.1,287.4 1044.4,279.9 1044.7,285.8 1045.0,275.0 1045.3,271.7 1045.6,264.9 1045.9,261.8 1046.2,256.9 1046.6,249.1 1046.9,253.9 1047.2,246.4 1047.5,241.2 1047.8,248.1 1048.2,247.0 1048.5,251.6 1048.8,251.7 1049.2,253.2 1049.5,260.0 1049.8,260.5 1050.1,258.0 1050.5,252.7 1050.8,254.1 1051.1,251.5 1051.4,246.4 1051.8,245.5 1052.1,252.6 1052.4,263.2 1052.8,262.7 1053.1,274.6 1053.4,270.8 1053.8,280.0 1054.1,281.7 1054.4,286.6 1054.7,285.5 1055.0,288.6 1055.3,295.2 1055.6,294.9 1055.9,299.6 1056.2,300.0 1056.6,294.2 1056.9,290.1 1057.2,288.4 1057.5,286.2 1057.8,288.2 1058.2,308.1 1058.5,304.1 1058.8,315.6 1059.2,315.4 1059.5,328.8 1059.8,329.2 1060.1,329.2 1060.4,329.6 1060.7,329.2 1061.0,329.7 1061.3,331.8 1061.6,331.0 1061.9,331.1 1062.2,331.4 1062.5,332.5 1062.8,323.8 1063.1,317.6 1063.4,309.1 1063.8,310.0 1064.1,309.2 1064.4,305.9 1064.7,303.3 1065.0,304.6 1065.3,299.8 1065.6,299.1 1065.9,300.4 1066.2,297.0 1066.6,294.4 1066.9,294.5 1067.2,295.0 1067.5,292.5 1067.8,292.9 1068.2,290.9 1068.5,291.0 1068.8,291.5 1069.1,290.3 1069.5,291.3 1069.8,289.2 1070.1,290.6 1070.4,289.1 1070.8,288.8 1071.0,289.0 1071.3,292.2 1071.6,292.2 1071.9,297.5 1072.2,296.7 1072.5,300.0 1072.8,305.3 1073.1,305.6 1073.4,306.6 1073.8,310.0 1074.0,310.1 1074.3,313.0 1074.6,312.4 1074.9,316.7 1075.2,314.5 1075.5,317.5 1075.8,320.9 1076.2,324.5 1076.5,325.6 1076.8,333.1 1077.2,333.2 1077.5,337.5 1077.8,337.2 1078.1,336.2 1078.4,334.5 1078.8,334.0 1079.1,332.2 1079.4,331.7 1079.7,333.2 1080.0,331.2 1080.3,331.4 1080.7,333.0 1081.0,332.0 1081.3,333.9 1081.7,334.0 1082.0,335.0 1082.3,342.5 1082.7,346.5 1083.0,357.5 1083.3,356.4 1083.7,356.7 1084.0,356.3 1084.3,355.9 1084.7,356.9 1085.0,356.2 1085.3,357.0 1085.6,360.0 1085.9,365.4 1086.2,366.8 1086.6,369.6 1086.9,371.7 1087.2,369.2 1087.5,373.8 1087.8,370.3 1088.2,366.8 1088.5,368.6 1088.8,366.4 1089.2,362.5 1089.5,361.2 1089.8,360.9 1090.1,361.2 1090.4,361.0 1090.7,359.9 1091.0,360.9 1091.2,360.0 1091.6,361.9 1091.9,367.3 1092.2,366.7 1092.5,372.5 1092.8,365.2 1093.2,368.9 1093.5,363.4 1093.8,359.5 1094.2,349.5 1094.5,350.0 1094.8,344.9 1095.1,343.6 1095.4,341.8 1095.7,340.4 1096.0,338.8 1096.2,337.5 1096.6,336.8 1096.9,337.7 1097.2,338.8 1097.5,338.8 1097.8,339.6 1098.1,352.2 1098.4,353.6 1098.8,357.5 1099.1,361.1 1099.4,360.3 1099.7,363.6 1100.0,367.4 1100.3,367.5 1100.6,367.4 1100.9,375.0 1101.2,375.0 1101.5,378.2 1101.8,377.2 1102.1,377.5 1102.4,383.6 1102.7,383.9 1103.0,385.0 1103.3,381.1 1103.7,380.4 1104.0,378.0 1104.3,379.8 1104.7,375.2 1105.0,375.0 1105.3,375.6 1105.6,374.0 1105.9,370.7 1106.2,372.0 1106.6,369.9 1106.9,370.3 1107.2,369.6 1107.5,367.5 1107.8,366.0 1108.1,364.6 1108.4,366.7 1108.7,364.2 1109.0,363.8 1109.3,377.8 1109.7,381.0 1110.0,385.0 1110.3,385.6 1110.6,386.0 1110.9,385.7 1111.2,385.5 1111.6,384.9 1111.9,386.3 1112.2,386.0 1112.5,386.2 1112.8,385.7 1113.1,386.3 1113.4,383.3 1113.8,384.5 1114.1,381.8 1114.4,383.1 1114.7,382.8 1115.0,381.2 1115.3,381.2 1115.6,383.0 1115.9,385.2 1116.2,384.8 1116.6,385.3 1116.9,385.1 1117.2,385.3 1117.5,387.5 1117.8,387.3 1118.1,387.4 1118.4,387.0 1118.8,387.2 1119.1,386.9 1119.4,387.8 1119.7,387.8 1120.0,387.5 1120.3,387.7 1120.7,388.9 1121.0,391.3 1121.3,392.3 1121.7,395.6 1122.0,395.0 1122.3,394.6 1122.6,394.4 1122.9,395.4 1123.2,393.8 1123.5,394.5 1123.8,393.9 1124.1,394.7 1124.4,394.1 1124.7,394.4 1125.0,393.8 1125.3,393.3 1125.6,395.1 1125.9,395.4 1126.2,395.5 1126.6,396.8 1126.9,397.4 1127.2,396.0 1127.5,397.5 1127.8,397.2 1128.1,397.5 1128.4,397.4 1128.8,397.3 1129.1,397.9 1129.4,397.8 1129.7,399.0 1130.0,398.8 1130.3,401.2 1130.6,401.4 1130.9,405.8 1131.2,410.0 1131.6,413.4 1131.9,416.1 1132.2,418.0 1132.5,425.0 1132.9,427.0 1133.2,450.0 1133.6,449.0 1133.9,458.5 1134.2,459.3 1134.5,460.0 1134.8,460.2 1135.2,474.6 1135.5,477.5 1135.8,478.5 1136.1,469.5 1136.4,460.0 1136.8,460.0 1137.1,465.1 1137.4,469.6 1137.7,471.7 1138.0,481.0 1138.3,484.1 1138.6,482.7 1138.9,492.8 1139.2,493.4 1139.5,495.0 1139.8,497.4 1140.1,500.9 1140.4,501.1 1140.8,502.0 1141.0,495.8 1141.3,492.1 1141.6,487.3 1141.9,482.5 1142.2,486.5 1142.5,480.0 1142.8,479.8 1143.1,472.0 1143.4,468.0 1143.8,467.5 1144.0,471.3 1144.3,475.7 1144.6,479.0 1144.9,475.7 1145.2,483.3 1145.5,483.8 1145.8,483.8 1146.2,481.7 1146.5,478.0 1146.8,475.7 1147.2,477.2 1147.5,474.0 1147.8,473.4 1148.1,473.2 1148.4,473.4 1148.8,473.0 1149.0,474.5 1149.3,480.3 1149.6,478.3 1149.9,479.3 1150.2,485.6 1150.5,487.5 1150.8,487.5 1151.2,487.6 1151.5,487.0 1151.8,487.1 1152.2,486.9 1152.5,485.5 1152.8,487.0 1153.1,488.5 1153.4,488.3 1153.8,490.5 1154.1,493.4 1154.4,492.4 1154.7,496.9 1155.0,497.5 1155.3,497.1 1155.6,498.2 1155.9,500.0 1156.2,498.2 1156.6,498.5 1156.9,500.0 1157.2,499.8 1157.5,501.0 1157.8,500.8 1158.1,496.9 1158.4,499.2 1158.8,498.1 1159.1,496.8 1159.4,494.3 1159.7,492.7 1160.0,492.5 1160.3,491.7 1160.6,489.4 1160.9,487.3 1161.2,485.3 1161.6,484.2 1161.9,483.8 1162.2,483.0 1162.5,479.8 1162.8,482.9 1163.2,481.0 1163.5,483.0 1163.8,485.0 1164.2,486.9 1164.5,488.0 1164.8,487.4 1165.1,486.8 1165.4,486.3 1165.7,486.6 1166.0,486.7 1166.3,487.5 1166.6,487.1 1166.9,486.8 1167.2,486.8 1167.5,485.5 1167.8,486.6 1168.1,486.1 1168.4,486.7 1168.8,485.4 1169.1,486.8 1169.4,486.8 1169.7,486.4 1170.0,487.0 1170.3,486.9 1170.6,487.5 1170.9,486.2 1171.2,486.3 1171.6,485.3 1171.9,485.2 1172.2,486.1 1172.5,485.0 1172.8,479.1 1173.1,477.8 1173.4,478.8 1173.8,475.0 1174.1,468.6 1174.4,457.9 1174.7,460.4 1175.0,452.5 1175.3,451.4 1175.6,451.3 1176.0,450.1 1176.3,449.7 1176.6,449.1 1176.9,447.9 1177.2,447.5 1177.5,447.0 1177.8,448.1 1178.1,451.7 1178.4,451.3 1178.7,450.6 1179.0,453.0 1179.3,453.4 1179.6,451.1 1180.0,450.0 1180.3,450.7 1180.6,449.2 1180.9,449.3 1181.2,448.8 1181.6,449.8 1181.9,449.5 1182.2,451.5 1182.5,450.7 1182.9,452.9 1183.2,454.0 1183.5,454.5 1183.8,448.3 1184.1,448.2 1184.4,442.7 1184.7,442.8 1185.0,440.5 1185.3,440.4 1185.7,435.4 1186.0,433.8 1186.3,431.4 1186.7,423.9 1187.0,424.0 1187.3,424.9 1187.7,410.7 1188.0,397.5 1188.3,397.2 1188.7,402.5 1189.0,402.0 1189.3,402.5 1189.7,408.2 1190.0,407.5 1190.3,404.7 1190.7,403.2 1191.0,394.4 1191.3,396.5 1191.7,387.1 1192.0,387.5 1192.3,387.2 1192.6,388.0 1192.9,387.5 1193.2,389.4 1193.5,388.8 1193.8,390.0 1194.1,392.0 1194.4,400.3 1194.7,401.4 1195.0,406.2 1195.3,406.7 1195.7,404.6 1196.0,404.5 1196.3,402.3 1196.7,402.6 1197.0,400.0 1197.3,400.3 1197.6,392.5 1197.9,394.3 1198.2,388.8 1198.5,389.5 1198.8,385.0 1199.1,383.0 1199.4,380.7 1199.7,370.0 1200.0,370.0 1200.3,360.6 1200.6,359.8 1200.9,356.2 1201.2,341.2 1201.5,349.5 1201.8,345.3 1202.1,358.3 1202.4,356.5 1202.7,368.0 1203.0,372.5 1203.3,372.1 1203.6,363.2 1203.9,367.1 1204.2,362.0 1204.5,357.5 1204.8,353.3 1205.1,350.3 1205.4,349.6 1205.8,347.5 1206.1,356.8 1206.4,358.5 1206.7,357.6 1207.0,367.5 1207.3,366.5 1207.6,369.1 1207.9,375.7 1208.2,373.8 1208.5,378.3 1208.8,380.0 1209.1,380.3 1209.4,383.3 1209.7,383.2 1210.0,383.5 1210.3,387.9 1210.6,387.7 1210.9,389.6 1211.2,390.0 1211.5,389.7 1211.8,388.0 1212.1,377.1 1212.4,377.0 1212.7,372.5 1213.0,372.5 1213.3,370.3 1213.6,370.5 1213.9,367.8 1214.2,360.4 1214.5,361.2 1214.8,361.2 1215.1,366.9 1215.4,368.0 1215.7,368.1 1216.0,370.5 1216.2,372.5 1216.5,372.4 1216.8,378.9 1217.1,378.1 1217.4,383.3 1217.7,383.6 1218.0,385.0 1218.3,381.9 1218.6,381.7 1218.9,380.0 1219.2,381.8 1219.5,378.8 1219.8,382.4 1220.1,380.7 1220.4,384.7 1220.7,389.2 1221.0,393.1 1221.2,396.2 1221.5,394.7 1221.8,391.4 1222.1,389.0 1222.4,384.7 1222.7,386.3 1223.0,383.8 1223.3,383.9 1223.6,383.7 1223.9,385.9 1224.2,388.4 1224.5,387.5 1224.8,386.7 1225.1,387.7 1225.4,389.9 1225.7,389.3 1226.0,389.9 1226.2,391.2 1226.5,390.8 1226.8,389.8 1227.1,390.2 1227.4,389.7 1227.7,390.3 1228.0,388.8" fill="none" stroke="#000" stroke-width="1.4" stroke-linejoin="round"/>
</g>
<line x1="175.5" x2="1260.5" y1="688.5" y2="688.5" stroke="#000" stroke-width="0.7" stroke-dasharray="1.39 4.17"/>
<line x1="175.5" x2="1260.5" y1="656.5" y2="656.5" stroke="#000" stroke-width="0.7" stroke-dasharray="1.39 4.17"/>
<line x1="175.5" x2="1260.5" y1="624.5" y2="624.5" stroke="#000" stroke-width="0.7" stroke-dasharray="1.39 4.17"/>
<line x1="175.5" x2="1260.5" y1="592.5" y2="592.5" stroke="#000" stroke-width="0.7" stroke-dasharray="1.39 4.17"/>
<line x1="175.5" x2="1260.5" y1="560.5" y2="560.5" stroke="#000" stroke-width="0.7" stroke-dasharray="1.39 4.17"/>
<line x1="175.5" x2="1260.5" y1="528.5" y2="528.5" stroke="#000" stroke-width="0.7" stroke-dasharray="1.39 4.17"/>
<line x1="175.5" x2="1260.5" y1="496.5" y2="496.5" stroke="#000" stroke-width="0.7" stroke-dasharray="1.39 4.17"/>
<line x1="175.5" x2="1260.5" y1="464.5" y2="464.5" stroke="#000" stroke-width="0.7" stroke-dasharray="1.39 4.17"/>
<line x1="175.5" x2="1260.5" y1="432.5" y2="432.5" stroke="#000" stroke-width="0.7" stroke-dasharray="1.39 4.17"/>
<line x1="175.5" x2="1260.5" y1="400.5" y2="400.5" stroke="#000" stroke-width="0.7" stroke-dasharray="1.39 4.17"/>
<line x1="175.5" x2="1260.5" y1="368.5" y2="368.5" stroke="#000" stroke-width="0.7" stroke-dasharray="1.39 4.17"/>
<line x1="175.5" x2="1260.5" y1="336.5" y2="336.5" stroke="#000" stroke-width="0.7" stroke-dasharray="1.39 4.17"/>
<line x1="175.5" x2="1260.5" y1="304.5" y2="304.5" stroke="#000" stroke-width="0.7" stroke-dasharray="1.39 4.17"/>
<line x1="175.5" x2="1260.5" y1="272.5" y2="272.5" stroke="#000" stroke-width="0.7" stroke-dasharray="1.39 4.17"/>
<line x1="175.5" x2="1260.5" y1="240.5" y2="240.5" stroke="#000" stroke-width="0.7" stroke-dasharray="1.39 4.17"/>
<line x1="175.5" x2="1260.5" y1="208.5" y2="208.5" stroke="#000" stroke-width="0.7" stroke-dasharray="1.39 4.17"/>
<line x1="175.5" x2="1260.5" y1="176.5" y2="176.5" stroke="#000" stroke-width="0.7" stroke-dasharray="1.39 4.17"/>
<line x1="175.5" x2="1260.5" y1="144.5" y2="144.5" stroke="#000" stroke-width="0.7" stroke-dasharray="1.39 4.17"/>
<line x1="175.5" x2="1260.5" y1="112.5" y2="112.5" stroke="#000" stroke-width="0.7" stroke-dasharray="1.39 4.17"/>
<line x1="232.5" x2="232.5" y1="720.5" y2="80.5" stroke="#000" stroke-width="0.7" stroke-dasharray="1.39 4.17"/>
<line x1="346.5" x2="346.5" y1="720.5" y2="80.5" stroke="#000" stroke-width="0.7" stroke-dasharray="1.39 4.17"/>
<line x1="461.5" x2="461.5" y1="720.5" y2="80.5" stroke="#000" stroke-width="0.7" stroke-dasharray="1.39 4.17"/>
<line x1="575.5" x2="575.5" y1="720.5" y2="80.5" stroke="#000" stroke-width="0.7" stroke-dasharray="1.39 4.17"/>
<line x1="689.5" x2="689.5" y1="720.5" y2="80.5" stroke="#000" stroke-width="0.7" stroke-dasharray="1.39 4.17"/>
<line x1="803.5" x2="803.5" y1="720.5" y2="80.5" stroke="#000" stroke-width="0.7" stroke-dasharray="1.39 4.17"/>
<line x1="917.5" x2="917.5" y1="720.5" y2="80.5" stroke="#000" stroke-width="0.7" stroke-dasharray="1.39 4.17"/>
<line x1="1032.5" x2="1032.5" y1="720.5" y2="80.5" stroke="#000" stroke-width="0.7" stroke-dasharray="1.39 4.17"/>
<line x1="1146.5" x2="1146.5" y1="720.5" y2="80.5" stroke="#000" stroke-width="0.7" stroke-dasharray="1.39 4.17"/>
<line x1="175.5" x2="181.5" y1="720.5" y2="720.5" stroke="#000" stroke-width="0.7"/>
<line x1="1254.5" x2="1260.5" y1="720.5" y2="720.5" stroke="#000" stroke-width="0.7"/>
<line x1="175.5" x2="181.5" y1="688.5" y2="688.5" stroke="#000" stroke-width="0.7"/>
<line x1="1254.5" x2="1260.5" y1="688.5" y2="688.5" stroke="#000" stroke-width="0.7"/>
<line x1="175.5" x2="181.5" y1="656.5" y2="656.5" stroke="#000" stroke-width="0.7"/>
<line x1="1254.5" x2="1260.5" y1="656.5" y2="656.5" stroke="#000" stroke-width="0.7"/>
<line x1="175.5" x2="181.5" y1="624.5" y2="624.5" stroke="#000" stroke-width="0.7"/>
<line x1="1254.5" x2="1260.5" y1="624.5" y2="624.5" stroke="#000" stroke-width="0.7"/>
<line x1="175.5" x2="181.5" y1="592.5" y2="592.5" stroke="#000" stroke-width="0.7"/>
<line x1="1254.5" x2="1260.5" y1="592.5" y2="592.5" stroke="#000" stroke-width="0.7"/>
<line x1="175.5" x2="181.5" y1="560.5" y2="560.5" stroke="#000" stroke-width="0.7"/>
<line x1="1254.5" x2="1260.5" y1="560.5" y2="560.5" stroke="#000" stroke-width="0.7"/>
<line x1="175.5" x2="181.5" y1="528.5" y2="528.5" stroke="#000" stroke-width="0.7"/>
<line x1="1254.5" x2="1260.5" y1="528.5" y2="528.5" stroke="#000" stroke-width="0.7"/>
<line x1="175.5" x2="181.5" y1="496.5" y2="496.5" stroke="#000" stroke-width="0.7"/>
<line x1="1254.5" x2="1260.5" y1="496.5" y2="496.5" stroke="#000" stroke-width="0.7"/>
<line x1="175.5" x2="181.5" y1="464.5" y2="464.5" stroke="#000" stroke-width="0.7"/>
<line x1="1254.5" x2="1260.5" y1="464.5" y2="464.5" stroke="#000" stroke-width="0.7"/>
<line x1="175.5" x2="181.5" y1="432.5" y2="432.5" stroke="#000" stroke-width="0.7"/>
<line x1="1254.5" x2="1260.5" y1="432.5" y2="432.5" stroke="#000" stroke-width="0.7"/>
<line x1="175.5" x2="181.5" y1="400.5" y2="400.5" stroke="#000" stroke-width="0.7"/>
<line x1="1254.5" x2="1260.5" y1="400.5" y2="400.5" stroke="#000" stroke-width="0.7"/>
<line x1="175.5" x2="181.5" y1="368.5" y2="368.5" stroke="#000" stroke-width="0.7"/>
<line x1="1254.5" x2="1260.5" y1="368.5" y2="368.5" stroke="#000" stroke-width="0.7"/>
<line x1="175.5" x2="181.5" y1="336.5" y2="336.5" stroke="#000" stroke-width="0.7"/>
<line x1="1254.5" x2="1260.5" y1="336.5" y2="336.5" stroke="#000" stroke-width="0.7"/>
<line x1="175.5" x2="181.5" y1="304.5" y2="304.5" stroke="#000" stroke-width="0.7"/>
<line x1="1254.5" x2="1260.5" y1="304.5" y2="304.5" stroke="#000" stroke-width="0.7"/>
<line x1="175.5" x2="181.5" y1="272.5" y2="272.5" stroke="#000" stroke-width="0.7"/>
<line x1="1254.5" x2="1260.5" y1="272.5" y2="272.5" stroke="#000" stroke-width="0.7"/>
<line x1="175.5" x2="181.5" y1="240.5" y2="240.5" stroke="#000" stroke-width="0.7"/>
<line x1="1254.5" x2="1260.5" y1="240.5" y2="240.5" stroke="#000" stroke-width="0.7"/>
<line x1="175.5" x2="181.5" y1="208.5" y2="208.5" stroke="#000" stroke-width="0.7"/>
<line x1="1254.5" x2="1260.5" y1="208.5" y2="208.5" stroke="#000" stroke-width="0.7"/>
<line x1="175.5" x2="181.5" y1="176.5" y2="176.5" stroke="#000" stroke-width="0.7"/>
<line x1="1254.5" x2="1260.5" y1="176.5" y2="176.5" stroke="#000" stroke-width="0.7"/>
<line x1="175.5" x2="181.5" y1="144.5" y2="144.5" stroke="#000" stroke-width="0.7"/>
<line x1="1254.5" x2="1260.5" y1="144.5" y2="144.5" stroke="#000" stroke-width="0.7"/>
<line x1="175.5" x2="181.5" y1="112.5" y2="112.5" stroke="#000" stroke-width="0.7"/>
<line x1="1254.5" x2="1260.5" y1="112.5" y2="112.5" stroke="#000" stroke-width="0.7"/>
<line x1="232.5" x2="232.5" y1="720.5" y2="714.5" stroke="#000" stroke-width="0.7"/>
<line x1="232.5" x2="232.5" y1="80.5" y2="86.5" stroke="#000" stroke-width="0.7"/>
<line x1="346.5" x2="346.5" y1="720.5" y2="714.5" stroke="#000" stroke-width="0.7"/>
<line x1="346.5" x2="346.5" y1="80.5" y2="86.5" stroke="#000" stroke-width="0.7"/>
<line x1="461.5" x2="461.5" y1="720.5" y2="714.5" stroke="#000" stroke-width="0.7"/>
<line x1="461.5" x2="461.5" y1="80.5" y2="86.5" stroke="#000" stroke-width="0.7"/>
<line x1="575.5" x2="575.5" y1="720.5" y2="714.5" stroke="#000" stroke-width="0.7"/>
<line x1="575.5" x2="575.5" y1="80.5" y2="86.5" stroke="#000" stroke-width="0.7"/>
<line x1="689.5" x2="689.5" y1="720.5" y2="714.5" stroke="#000" stroke-width="0.7"/>
<line x1="689.5" x2="689.5" y1="80.5" y2="86.5" stroke="#000" stroke-width="0.7"/>
<line x1="803.5" x2="803.5" y1="720.5" y2="714.5" stroke="#000" stroke-width="0.7"/>
<line x1="803.5" x2="803.5" y1="80.5" y2="86.5" stroke="#000" stroke-width="0.7"/>
<line x1="917.5" x2="917.5" y1="720.5" y2="714.5" stroke="#000" stroke-width="0.7"/>
<line x1="917.5" x2="917.5" y1="80.5" y2="86.5" stroke="#000" stroke-width="0.7"/>
<line x1="1032.5" x2="1032.5" y1="720.5" y2="714.5" stroke="#000" stroke-width="0.7"/>
<line x1="1032.5" x2="1032.5" y1="80.5" y2="86.5" stroke="#000" stroke-width="0.7"/>
<line x1="1146.5" x2="1146.5" y1="720.5" y2="714.5" stroke="#000" stroke-width="0.7"/>
<line x1="1146.5" x2="1146.5" y1="80.5" y2="86.5" stroke="#000" stroke-width="0.7"/>
<line x1="1260.5" x2="1260.5" y1="720.5" y2="714.5" stroke="#000" stroke-width="0.7"/>
<line x1="1260.5" x2="1260.5" y1="80.5" y2="86.5" stroke="#000" stroke-width="0.7"/>
<text transform="translate(420.6,562.0) scale(1.070,1)" font-size="103.0" fill="rgb(128,128,128)" fill-opacity="0.1">@</text>
<text transform="translate(532.5,562.0) scale(1.070,1)" font-size="117.0" fill="rgb(128,128,128)" fill-opacity="0.1">h</text>
<text transform="translate(601.8,562.0) scale(1.070,1)" font-size="117.0" fill="rgb(128,128,128)" fill-opacity="0.1">c</text>
<text transform="translate(664.1,562.0) scale(1.070,1)" font-size="117.0" fill="rgb(128,128,128)" fill-opacity="0.1">b</text>
<text transform="translate(734.6,562.0) scale(1.070,1)" font-size="117.0" fill="rgb(128,128,128)" fill-opacity="0.1">u</text>
<text transform="translate(806.6,562.0) scale(1.070,1)" font-size="117.0" fill="rgb(128,128,128)" fill-opacity="0.1">r</text>
<text transform="translate(850.8,562.0) scale(1.070,1)" font-size="117.0" fill="rgb(128,128,128)" fill-opacity="0.1">g</text>
<text transform="translate(920.2,562.0) scale(1.070,1)" font-size="117.0" fill="rgb(128,128,128)" fill-opacity="0.1">e</text>
<text transform="translate(991.2,562.0) scale(1.070,1)" font-size="117.0" fill="rgb(128,128,128)" fill-opacity="0.1">r</text>
<text transform="translate(1035.4,562.0) scale(1.070,1)" font-size="117.0" fill="rgb(128,128,128)" fill-opacity="0.1">1</text>
<text transform="translate(421.4,644.5) scale(1.070,1)" font-size="117.0" fill="rgb(128,128,128)" fill-opacity="0.1">h</text>
<text transform="translate(490.7,644.5) scale(1.070,1)" font-size="117.0" fill="rgb(128,128,128)" fill-opacity="0.1">c</text>
<text transform="translate(553.0,644.5) scale(1.070,1)" font-size="117.0" fill="rgb(128,128,128)" fill-opacity="0.1">b</text>
<text transform="translate(623.5,644.5) scale(1.070,1)" font-size="117.0" fill="rgb(128,128,128)" fill-opacity="0.1">u</text>
<text transform="translate(695.5,644.5) scale(1.070,1)" font-size="117.0" fill="rgb(128,128,128)" fill-opacity="0.1">r</text>
<text transform="translate(739.7,644.5) scale(1.070,1)" font-size="117.0" fill="rgb(128,128,128)" fill-opacity="0.1">g</text>
<text transform="translate(809.1,644.5) scale(1.070,1)" font-size="117.0" fill="rgb(128,128,128)" fill-opacity="0.1">e</text>
<text transform="translate(880.1,644.5) scale(1.070,1)" font-size="117.0" fill="rgb(128,128,128)" fill-opacity="0.1">r</text>
<text transform="translate(924.0,644.5) scale(1.070,1)" font-size="117.0" fill="rgb(128,128,128)" fill-opacity="0.1">.</text>
<text transform="translate(958.3,644.5) scale(1.070,1)" font-size="117.0" fill="rgb(128,128,128)" fill-opacity="0.1">c</text>
<text transform="translate(1019.4,644.5) scale(1.070,1)" font-size="117.0" fill="rgb(128,128,128)" fill-opacity="0.1">o</text>
<text transform="translate(1090.1,644.5) scale(1.070,1)" font-size="117.0" fill="rgb(128,128,128)" fill-opacity="0.1">m</text>
<text x="650.8" y="125.5" textLength="304" lengthAdjust="spacingAndGlyphs" font-size="18.8" font-weight="bold" fill="#f00">bubbles pop in this narrow band</text>
<text x="556.8" y="669.6" textLength="493.4" lengthAdjust="spacingAndGlyphs" font-size="18.8" font-weight="bold" fill="#008000">particularly good buying opportunities in this region</text>
<rect x="175.5" y="80.5" width="1085.0" height="640.0" fill="none" stroke="#000" stroke-width="1.4"/>
<text x="143.2" y="725.3" textLength="25.4" lengthAdjust="spacingAndGlyphs" font-size="17.3" fill="#000">1.0</text>
<line x1="131.8" x2="142" y1="719.8" y2="719.8" stroke="#000" stroke-width="1.4"/>
<text x="143.2" y="693.3" textLength="25.4" lengthAdjust="spacingAndGlyphs" font-size="17.3" fill="#000">0.9</text>
<line x1="131.8" x2="142" y1="687.8" y2="687.8" stroke="#000" stroke-width="1.4"/>
<text x="143.2" y="661.3" textLength="25.4" lengthAdjust="spacingAndGlyphs" font-size="17.3" fill="#000">0.8</text>
<line x1="131.8" x2="142" y1="655.8" y2="655.8" stroke="#000" stroke-width="1.4"/>
<text x="143.2" y="629.3" textLength="25.4" lengthAdjust="spacingAndGlyphs" font-size="17.3" fill="#000">0.7</text>
<line x1="131.8" x2="142" y1="623.8" y2="623.8" stroke="#000" stroke-width="1.4"/>
<text x="143.2" y="597.3" textLength="25.4" lengthAdjust="spacingAndGlyphs" font-size="17.3" fill="#000">0.6</text>
<line x1="131.8" x2="142" y1="591.8" y2="591.8" stroke="#000" stroke-width="1.4"/>
<text x="143.2" y="565.3" textLength="25.4" lengthAdjust="spacingAndGlyphs" font-size="17.3" fill="#000">0.5</text>
<line x1="131.8" x2="142" y1="559.8" y2="559.8" stroke="#000" stroke-width="1.4"/>
<text x="143.2" y="533.3" textLength="25.4" lengthAdjust="spacingAndGlyphs" font-size="17.3" fill="#000">0.4</text>
<line x1="131.8" x2="142" y1="527.8" y2="527.8" stroke="#000" stroke-width="1.4"/>
<text x="143.2" y="501.3" textLength="25.4" lengthAdjust="spacingAndGlyphs" font-size="17.3" fill="#000">0.3</text>
<line x1="131.8" x2="142" y1="495.8" y2="495.8" stroke="#000" stroke-width="1.4"/>
<text x="143.2" y="469.3" textLength="25.4" lengthAdjust="spacingAndGlyphs" font-size="17.3" fill="#000">0.2</text>
<line x1="131.8" x2="142" y1="463.8" y2="463.8" stroke="#000" stroke-width="1.4"/>
<text x="143.2" y="437.3" textLength="25.4" lengthAdjust="spacingAndGlyphs" font-size="17.3" fill="#000">0.1</text>
<line x1="131.8" x2="142" y1="431.8" y2="431.8" stroke="#000" stroke-width="1.4"/>
<text x="143.2" y="405.3" textLength="25.4" lengthAdjust="spacingAndGlyphs" font-size="17.3" fill="#000">0.0</text>
<text x="143.2" y="373.3" textLength="25.4" lengthAdjust="spacingAndGlyphs" font-size="17.3" fill="#000">0.1</text>
<text x="143.2" y="341.3" textLength="25.4" lengthAdjust="spacingAndGlyphs" font-size="17.3" fill="#000">0.2</text>
<text x="143.2" y="309.3" textLength="25.4" lengthAdjust="spacingAndGlyphs" font-size="17.3" fill="#000">0.3</text>
<text x="143.2" y="277.3" textLength="25.4" lengthAdjust="spacingAndGlyphs" font-size="17.3" fill="#000">0.4</text>
<text x="143.2" y="245.3" textLength="25.4" lengthAdjust="spacingAndGlyphs" font-size="17.3" fill="#000">0.5</text>
<text x="143.2" y="213.3" textLength="25.4" lengthAdjust="spacingAndGlyphs" font-size="17.3" fill="#000">0.6</text>
<text x="143.2" y="181.3" textLength="25.4" lengthAdjust="spacingAndGlyphs" font-size="17.3" fill="#000">0.7</text>
<text x="143.2" y="149.3" textLength="25.4" lengthAdjust="spacingAndGlyphs" font-size="17.3" fill="#000">0.8</text>
<text x="143.2" y="117.3" textLength="25.4" lengthAdjust="spacingAndGlyphs" font-size="17.3" fill="#000">0.9</text>
<text transform="translate(236.9,769.9) rotate(-90)" textLength="40.6" lengthAdjust="spacingAndGlyphs" font-size="18.4" fill="#000">2011</text>
<text transform="translate(350.9,769.9) rotate(-90)" textLength="40.6" lengthAdjust="spacingAndGlyphs" font-size="18.4" fill="#000">2012</text>
<text transform="translate(465.9,769.9) rotate(-90)" textLength="40.6" lengthAdjust="spacingAndGlyphs" font-size="18.4" fill="#000">2013</text>
<text transform="translate(579.9,769.9) rotate(-90)" textLength="40.6" lengthAdjust="spacingAndGlyphs" font-size="18.4" fill="#000">2014</text>
<text transform="translate(693.9,769.9) rotate(-90)" textLength="40.6" lengthAdjust="spacingAndGlyphs" font-size="18.4" fill="#000">2015</text>
<text transform="translate(807.9,769.9) rotate(-90)" textLength="40.6" lengthAdjust="spacingAndGlyphs" font-size="18.4" fill="#000">2016</text>
<text transform="translate(921.9,769.9) rotate(-90)" textLength="40.6" lengthAdjust="spacingAndGlyphs" font-size="18.4" fill="#000">2017</text>
<text transform="translate(1036.9,769.9) rotate(-90)" textLength="40.6" lengthAdjust="spacingAndGlyphs" font-size="18.4" fill="#000">2018</text>
<text transform="translate(1150.9,769.9) rotate(-90)" textLength="40.6" lengthAdjust="spacingAndGlyphs" font-size="18.4" fill="#000">2019</text>
<text transform="translate(1264.9,769.9) rotate(-90)" textLength="40.6" lengthAdjust="spacingAndGlyphs" font-size="18.4" fill="#000">2020</text>
<text x="701" y="789.3" textLength="34.6" lengthAdjust="spacingAndGlyphs" font-size="17.3" fill="#000">year</text>
<text transform="translate(118.4,492.4) rotate(-90)" textLength="183.2" lengthAdjust="spacingAndGlyphs" font-size="17.5" fill="#000">power oscillator value</text>
<text x="638.2" y="73.2" textLength="159.6" lengthAdjust="spacingAndGlyphs" font-size="19.5" fill="#000">power oscillator</text>
</g>
</svg>
</body></html>
